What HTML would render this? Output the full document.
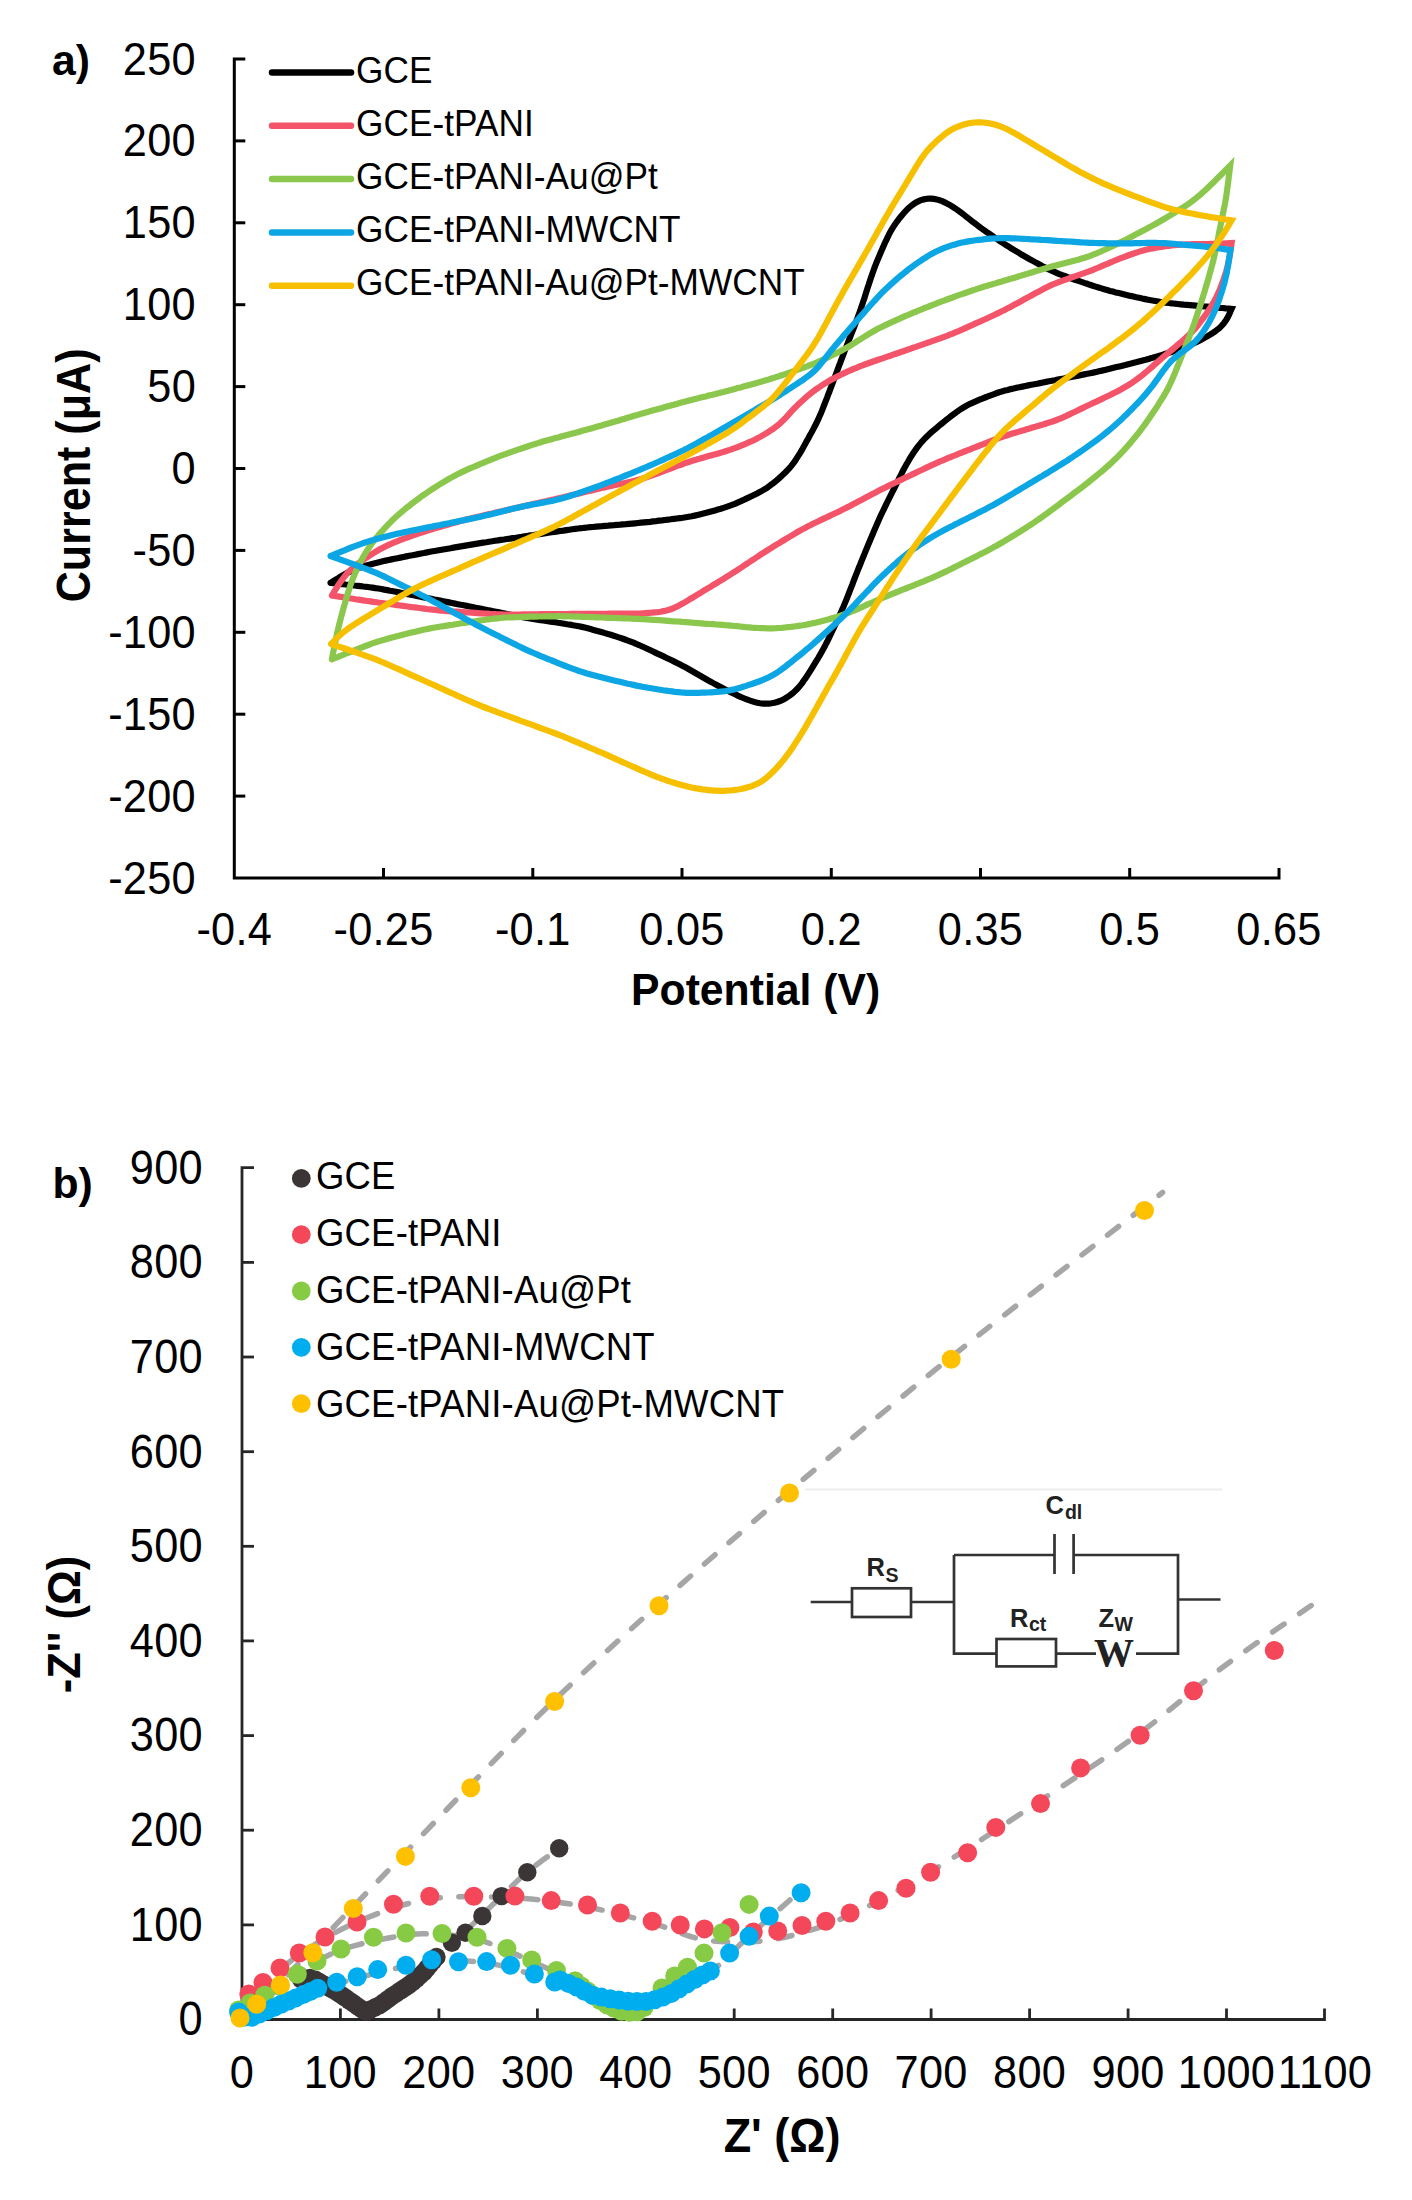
<!DOCTYPE html>
<html><head><meta charset="utf-8"><style>
html,body{margin:0;padding:0;background:#fff;}
svg{display:block;}
.t{font-family:"Liberation Sans",sans-serif;font-size:43.3px;letter-spacing:0.3px;fill:#000;}
.tb{font-family:"Liberation Sans",sans-serif;font-size:42.7px;font-weight:bold;fill:#000;}
.tb2{font-family:"Liberation Sans",sans-serif;font-size:45px;font-weight:bold;fill:#000;}
.tl{font-family:"Liberation Sans",sans-serif;font-size:35.2px;letter-spacing:0.05px;fill:#000;}
.ser{font-family:"Liberation Serif",serif;font-size:38px;font-weight:bold;fill:#222;}
.cb{font-family:"Liberation Sans",sans-serif;font-size:25.5px;font-weight:bold;fill:#222;}
.sub{font-size:19.5px;}
.tl2{font-family:"Liberation Sans",sans-serif;font-size:36.5px;letter-spacing:0.2px;fill:#000;}
</style></head><body>
<svg width="1412" height="2200" viewBox="0 0 1412 2200">
<rect width="1412" height="2200" fill="#fff"/>
<path d="M245.3,59 H234.3 V878 H1279 V868" fill="none" stroke="#000" stroke-width="3"/>
<path d="M234.3,140.9 H245.3" stroke="#000" stroke-width="3"/>
<path d="M234.3,222.8 H245.3" stroke="#000" stroke-width="3"/>
<path d="M234.3,304.7 H245.3" stroke="#000" stroke-width="3"/>
<path d="M234.3,386.6 H245.3" stroke="#000" stroke-width="3"/>
<path d="M234.3,468.5 H245.3" stroke="#000" stroke-width="3"/>
<path d="M234.3,550.4 H245.3" stroke="#000" stroke-width="3"/>
<path d="M234.3,632.3 H245.3" stroke="#000" stroke-width="3"/>
<path d="M234.3,714.2 H245.3" stroke="#000" stroke-width="3"/>
<path d="M234.3,796.1 H245.3" stroke="#000" stroke-width="3"/>
<path d="M383.5,878 V868" stroke="#000" stroke-width="3"/>
<path d="M532.8,878 V868" stroke="#000" stroke-width="3"/>
<path d="M682.0,878 V868" stroke="#000" stroke-width="3"/>
<path d="M831.3,878 V868" stroke="#000" stroke-width="3"/>
<path d="M980.5,878 V868" stroke="#000" stroke-width="3"/>
<path d="M1129.7,878 V868" stroke="#000" stroke-width="3"/>
<text transform="translate(196.0,74.5) scale(1,1.07)" text-anchor="end" class="t" >250</text>
<text transform="translate(196.0,156.4) scale(1,1.07)" text-anchor="end" class="t" >200</text>
<text transform="translate(196.0,238.3) scale(1,1.07)" text-anchor="end" class="t" >150</text>
<text transform="translate(196.0,320.2) scale(1,1.07)" text-anchor="end" class="t" >100</text>
<text transform="translate(196.0,402.1) scale(1,1.07)" text-anchor="end" class="t" >50</text>
<text transform="translate(196.0,484.0) scale(1,1.07)" text-anchor="end" class="t" >0</text>
<text transform="translate(196.0,565.9) scale(1,1.07)" text-anchor="end" class="t" >-50</text>
<text transform="translate(196.0,647.8) scale(1,1.07)" text-anchor="end" class="t" >-100</text>
<text transform="translate(196.0,729.7) scale(1,1.07)" text-anchor="end" class="t" >-150</text>
<text transform="translate(196.0,811.6) scale(1,1.07)" text-anchor="end" class="t" >-200</text>
<text transform="translate(196.0,893.5) scale(1,1.07)" text-anchor="end" class="t" >-250</text>
<text transform="translate(234.3,944.5) scale(1,1.07)" text-anchor="middle" class="t" >-0.4</text>
<text transform="translate(383.5,944.5) scale(1,1.07)" text-anchor="middle" class="t" >-0.25</text>
<text transform="translate(532.8,944.5) scale(1,1.07)" text-anchor="middle" class="t" >-0.1</text>
<text transform="translate(682.0,944.5) scale(1,1.07)" text-anchor="middle" class="t" >0.05</text>
<text transform="translate(831.3,944.5) scale(1,1.07)" text-anchor="middle" class="t" >0.2</text>
<text transform="translate(980.5,944.5) scale(1,1.07)" text-anchor="middle" class="t" >0.35</text>
<text transform="translate(1129.7,944.5) scale(1,1.07)" text-anchor="middle" class="t" >0.5</text>
<text transform="translate(1279.0,944.5) scale(1,1.07)" text-anchor="middle" class="t" >0.65</text>
<text x="52" y="75" class="tb">a)</text>
<text transform="translate(755.6,1005.0) scale(1,1.05)" text-anchor="middle" class="tb" >Potential (V)</text>
<text transform="translate(90,475.4) rotate(-90) scale(1,1.1)" text-anchor="middle" class="tb" style="font-size:43.1px">Current (μA)</text>
<path d="M272,72.5 H351" stroke="#000000" stroke-width="6.5" stroke-linecap="round"/>
<text transform="translate(356,83.3) scale(1,1.06)" class="tl">GCE</text>
<path d="M272,125.8 H351" stroke="#F4546A" stroke-width="6.5" stroke-linecap="round"/>
<text transform="translate(356,136.2) scale(1,1.06)" class="tl">GCE-tPANI</text>
<path d="M272,179.1 H351" stroke="#8BC74C" stroke-width="6.5" stroke-linecap="round"/>
<text transform="translate(356,189.2) scale(1,1.06)" class="tl">GCE-tPANI-Au@Pt</text>
<path d="M272,232.4 H351" stroke="#0BA6E3" stroke-width="6.5" stroke-linecap="round"/>
<text transform="translate(356,242.2) scale(1,1.06)" class="tl">GCE-tPANI-MWCNT</text>
<path d="M272,285.7 H351" stroke="#F6C000" stroke-width="6.5" stroke-linecap="round"/>
<text transform="translate(356,295.1) scale(1,1.06)" class="tl">GCE-tPANI-Au@Pt-MWCNT</text>
<path d="M330.6,582.8 L333.2,581.2 L335.7,579.6 L338.3,578.1 L340.8,576.5 L343.4,575.1 L346.1,573.6 L348.7,572.3 L351.4,571.0 L354.1,569.8 L356.9,568.7 L359.7,567.7 L362.5,566.7 L365.4,565.8 L368.3,565.0 L371.2,564.2 L374.0,563.4 L377.0,562.7 L379.9,562.0 L382.8,561.3 L385.7,560.6 L388.7,560.0 L391.6,559.4 L394.5,558.8 L397.5,558.2 L400.4,557.6 L403.4,557.0 L406.3,556.4 L409.3,555.8 L412.2,555.3 L415.2,554.7 L418.1,554.1 L421.1,553.5 L424.0,553.0 L427.0,552.4 L429.9,551.8 L432.9,551.3 L435.8,550.8 L438.8,550.2 L441.7,549.7 L444.7,549.2 L447.7,548.7 L450.6,548.2 L453.6,547.6 L456.5,547.1 L459.5,546.6 L462.5,546.1 L465.4,545.6 L468.4,545.1 L471.3,544.6 L474.3,544.1 L477.3,543.6 L480.2,543.1 L483.2,542.6 L486.2,542.2 L489.1,541.7 L492.1,541.3 L495.1,540.8 L498.0,540.4 L501.0,539.9 L504.0,539.5 L507.0,539.0 L509.9,538.6 L512.9,538.1 L515.9,537.7 L518.8,537.2 L521.8,536.8 L524.8,536.3 L527.8,535.9 L530.7,535.4 L533.7,535.0 L536.7,534.5 L539.6,534.1 L542.6,533.6 L545.6,533.2 L548.5,532.8 L551.5,532.3 L554.5,531.9 L557.5,531.4 L560.4,531.0 L563.4,530.6 L566.4,530.1 L569.4,529.7 L572.3,529.3 L575.3,528.9 L578.3,528.5 L581.3,528.2 L584.3,527.8 L587.2,527.5 L590.2,527.2 L593.2,527.0 L596.2,526.7 L599.2,526.4 L602.2,526.2 L605.2,525.9 L608.2,525.7 L611.2,525.4 L614.2,525.2 L617.2,524.9 L620.2,524.7 L623.1,524.4 L626.1,524.2 L629.1,523.9 L632.1,523.6 L635.1,523.3 L638.1,523.0 L641.1,522.7 L644.1,522.4 L647.1,522.1 L650.1,521.8 L653.0,521.4 L656.0,521.1 L659.0,520.7 L662.0,520.4 L665.0,520.0 L668.0,519.7 L670.9,519.3 L673.9,518.9 L676.9,518.5 L679.9,518.1 L682.8,517.7 L685.8,517.2 L688.8,516.7 L691.7,516.2 L694.6,515.6 L697.6,514.9 L700.5,514.2 L703.4,513.5 L706.3,512.8 L709.2,512.0 L712.1,511.2 L715.0,510.4 L717.9,509.6 L720.8,508.8 L723.6,507.9 L726.5,506.9 L729.3,505.9 L732.1,504.9 L734.9,503.8 L737.6,502.6 L740.4,501.4 L743.1,500.2 L745.8,498.9 L748.5,497.6 L751.3,496.3 L754.0,495.0 L756.6,493.7 L759.3,492.3 L761.9,490.9 L764.4,489.4 L767.0,487.8 L769.4,486.1 L771.8,484.3 L774.1,482.5 L776.4,480.6 L778.7,478.6 L780.9,476.6 L783.1,474.6 L785.3,472.5 L787.3,470.4 L789.4,468.2 L791.3,465.9 L793.1,463.6 L794.9,461.2 L796.5,458.7 L798.1,456.2 L799.7,453.7 L801.2,451.1 L802.7,448.5 L804.1,445.9 L805.6,443.2 L807.0,440.6 L808.5,438.0 L809.9,435.3 L811.4,432.7 L812.8,430.1 L814.2,427.4 L815.6,424.7 L816.9,422.1 L818.2,419.4 L819.4,416.6 L820.6,413.9 L821.8,411.1 L822.9,408.3 L824.0,405.5 L825.1,402.7 L826.2,399.9 L827.3,397.1 L828.3,394.3 L829.4,391.5 L830.5,388.7 L831.5,385.9 L832.6,383.1 L833.6,380.3 L834.7,377.5 L835.8,374.6 L836.8,371.8 L837.9,369.0 L838.9,366.2 L840.0,363.4 L841.0,360.6 L842.1,357.8 L843.2,355.0 L844.2,352.2 L845.3,349.4 L846.4,346.6 L847.5,343.8 L848.6,341.0 L849.7,338.2 L850.8,335.4 L851.9,332.6 L853.0,329.8 L854.1,327.0 L855.2,324.2 L856.2,321.4 L857.3,318.6 L858.3,315.8 L859.4,312.9 L860.4,310.1 L861.3,307.3 L862.3,304.4 L863.2,301.6 L864.2,298.7 L865.1,295.8 L866.0,293.0 L866.9,290.1 L867.8,287.3 L868.8,284.4 L869.7,281.5 L870.6,278.7 L871.6,275.9 L872.6,273.0 L873.6,270.2 L874.6,267.4 L875.7,264.6 L876.8,261.8 L878.0,259.0 L879.1,256.3 L880.3,253.5 L881.5,250.7 L882.7,248.0 L883.9,245.2 L885.1,242.5 L886.4,239.8 L887.7,237.1 L889.0,234.4 L890.4,231.8 L891.9,229.2 L893.5,226.7 L895.1,224.2 L896.8,221.8 L898.6,219.4 L900.5,217.0 L902.4,214.7 L904.3,212.5 L906.3,210.3 L908.4,208.3 L910.6,206.3 L912.9,204.6 L915.2,203.0 L917.7,201.6 L920.3,200.4 L922.9,199.6 L925.6,199.0 L928.4,198.6 L931.1,198.6 L933.9,198.9 L936.7,199.4 L939.4,200.2 L942.1,201.2 L944.8,202.4 L947.4,203.7 L950.0,205.1 L952.5,206.7 L955.0,208.3 L957.5,210.0 L959.9,211.8 L962.3,213.6 L964.6,215.4 L967.0,217.3 L969.4,219.1 L971.7,221.0 L974.1,222.8 L976.5,224.6 L978.9,226.4 L981.3,228.2 L983.8,229.9 L986.2,231.7 L988.7,233.4 L991.1,235.1 L993.6,236.8 L996.1,238.5 L998.6,240.2 L1001.1,241.9 L1003.6,243.5 L1006.1,245.1 L1008.7,246.7 L1011.2,248.3 L1013.8,249.8 L1016.4,251.4 L1019.0,252.9 L1021.5,254.5 L1024.1,256.0 L1026.7,257.5 L1029.3,259.0 L1032.0,260.4 L1034.6,261.9 L1037.2,263.3 L1039.9,264.8 L1042.5,266.2 L1045.2,267.5 L1047.8,268.9 L1050.5,270.2 L1053.3,271.4 L1056.0,272.6 L1058.8,273.8 L1061.6,274.9 L1064.4,275.9 L1067.2,277.0 L1070.0,278.0 L1072.9,279.0 L1075.7,280.0 L1078.5,280.9 L1081.4,281.9 L1084.2,282.9 L1087.1,283.8 L1089.9,284.8 L1092.8,285.7 L1095.6,286.6 L1098.5,287.5 L1101.4,288.4 L1104.2,289.3 L1107.1,290.1 L1110.0,290.9 L1112.9,291.6 L1115.8,292.4 L1118.8,293.1 L1121.7,293.8 L1124.6,294.5 L1127.5,295.2 L1130.4,295.9 L1133.4,296.5 L1136.3,297.2 L1139.2,297.8 L1142.2,298.5 L1145.1,299.1 L1148.1,299.7 L1151.0,300.3 L1153.9,300.8 L1156.9,301.3 L1159.9,301.8 L1162.8,302.2 L1165.8,302.6 L1168.8,303.0 L1171.8,303.3 L1174.8,303.7 L1177.7,304.0 L1180.7,304.3 L1183.7,304.6 L1186.7,304.8 L1189.7,305.1 L1192.7,305.4 L1195.7,305.7 L1198.7,306.0 L1201.7,306.2 L1204.7,306.5 L1207.7,306.7 L1210.6,307.0 L1213.6,307.3 L1216.6,307.5 L1219.6,307.8 L1222.6,308.0 L1225.6,308.3 L1228.6,308.5 L1231.6,308.8 L1231.6,308.8 L1230.4,311.5 L1229.3,314.2 L1228.0,316.8 L1226.6,319.3 L1225.0,321.7 L1223.3,324.0 L1221.3,326.1 L1219.3,328.1 L1217.0,329.9 L1214.7,331.7 L1212.2,333.3 L1209.7,334.9 L1207.2,336.4 L1204.5,337.9 L1201.9,339.3 L1199.2,340.7 L1196.6,342.0 L1193.9,343.3 L1191.1,344.6 L1188.4,345.8 L1185.6,346.9 L1182.8,348.0 L1180.0,349.1 L1177.2,350.1 L1174.4,351.0 L1171.5,352.0 L1168.7,352.9 L1165.8,353.8 L1162.9,354.7 L1160.1,355.6 L1157.2,356.4 L1154.3,357.2 L1151.4,358.1 L1148.5,358.9 L1145.6,359.7 L1142.7,360.4 L1139.8,361.2 L1136.9,362.0 L1134.0,362.7 L1131.1,363.5 L1128.2,364.2 L1125.3,365.0 L1122.4,365.7 L1119.5,366.4 L1116.5,367.1 L1113.6,367.8 L1110.7,368.5 L1107.8,369.2 L1104.8,369.9 L1101.9,370.6 L1099.0,371.2 L1096.1,371.9 L1093.1,372.6 L1090.2,373.2 L1087.3,373.8 L1084.3,374.4 L1081.4,375.0 L1078.4,375.6 L1075.5,376.2 L1072.5,376.7 L1069.6,377.3 L1066.6,377.9 L1063.7,378.5 L1060.7,379.0 L1057.8,379.6 L1054.8,380.2 L1051.9,380.7 L1049.0,381.3 L1046.0,381.9 L1043.1,382.5 L1040.1,383.1 L1037.2,383.7 L1034.2,384.3 L1031.3,384.8 L1028.3,385.4 L1025.4,386.0 L1022.4,386.6 L1019.5,387.2 L1016.6,387.8 L1013.6,388.5 L1010.7,389.1 L1007.8,389.9 L1004.9,390.6 L1002.0,391.4 L999.2,392.3 L996.3,393.3 L993.5,394.3 L990.7,395.3 L987.9,396.4 L985.1,397.5 L982.3,398.6 L979.6,399.7 L976.8,400.9 L974.0,402.1 L971.3,403.3 L968.7,404.6 L966.0,406.0 L963.4,407.5 L960.9,409.0 L958.4,410.7 L956.0,412.4 L953.6,414.2 L951.2,416.0 L948.9,417.9 L946.5,419.7 L944.2,421.6 L941.9,423.5 L939.5,425.4 L937.2,427.4 L934.9,429.3 L932.7,431.2 L930.4,433.2 L928.2,435.2 L926.1,437.3 L924.0,439.4 L922.0,441.6 L920.1,443.9 L918.2,446.2 L916.4,448.6 L914.7,451.0 L913.0,453.5 L911.4,456.0 L909.8,458.6 L908.3,461.2 L906.8,463.8 L905.3,466.4 L903.9,469.0 L902.5,471.7 L901.2,474.4 L899.8,477.0 L898.5,479.7 L897.1,482.4 L895.8,485.1 L894.5,487.8 L893.1,490.5 L891.8,493.2 L890.4,495.8 L889.1,498.5 L887.8,501.2 L886.4,503.9 L885.1,506.6 L883.8,509.3 L882.5,512.0 L881.2,514.7 L879.9,517.5 L878.7,520.2 L877.5,522.9 L876.3,525.7 L875.1,528.4 L873.9,531.2 L872.8,534.0 L871.6,536.7 L870.4,539.5 L869.3,542.3 L868.1,545.0 L867.0,547.8 L865.8,550.6 L864.7,553.4 L863.5,556.2 L862.4,558.9 L861.3,561.7 L860.2,564.5 L859.0,567.3 L857.9,570.1 L856.8,572.9 L855.7,575.7 L854.6,578.5 L853.5,581.3 L852.5,584.1 L851.4,586.9 L850.3,589.7 L849.2,592.5 L848.1,595.3 L847.0,598.1 L845.9,600.8 L844.7,603.6 L843.6,606.4 L842.4,609.1 L841.2,611.9 L839.9,614.6 L838.7,617.3 L837.4,620.1 L836.1,622.8 L834.9,625.5 L833.6,628.2 L832.3,630.9 L831.0,633.7 L829.7,636.4 L828.4,639.1 L827.1,641.8 L825.7,644.4 L824.4,647.1 L822.9,649.7 L821.5,652.3 L820.0,654.9 L818.5,657.5 L816.9,660.1 L815.3,662.7 L813.8,665.2 L812.2,667.8 L810.6,670.3 L809.0,672.8 L807.4,675.4 L805.7,677.9 L804.0,680.3 L802.3,682.8 L800.5,685.1 L798.6,687.4 L796.6,689.5 L794.5,691.6 L792.3,693.5 L790.0,695.3 L787.6,697.0 L785.1,698.5 L782.6,699.9 L779.9,701.0 L777.2,702.0 L774.4,702.8 L771.6,703.3 L768.8,703.6 L765.9,703.7 L763.0,703.6 L760.1,703.2 L757.3,702.7 L754.5,702.0 L751.6,701.1 L748.8,700.2 L746.0,699.1 L743.3,698.0 L740.5,696.8 L737.8,695.6 L735.1,694.3 L732.4,693.0 L729.7,691.7 L727.0,690.4 L724.3,689.0 L721.6,687.6 L719.0,686.2 L716.3,684.8 L713.7,683.4 L711.1,681.9 L708.4,680.5 L705.8,679.0 L703.2,677.5 L700.6,676.0 L698.0,674.5 L695.4,673.0 L692.8,671.5 L690.2,670.0 L687.6,668.5 L685.0,667.1 L682.3,665.7 L679.7,664.3 L677.0,662.9 L674.3,661.6 L671.6,660.3 L668.9,659.0 L666.2,657.7 L663.5,656.4 L660.8,655.2 L658.0,653.9 L655.3,652.6 L652.6,651.3 L649.9,650.0 L647.2,648.7 L644.5,647.5 L641.7,646.2 L639.0,645.0 L636.2,643.9 L633.5,642.7 L630.7,641.6 L627.9,640.6 L625.0,639.5 L622.2,638.5 L619.4,637.6 L616.5,636.6 L613.7,635.7 L610.8,634.8 L607.9,634.0 L605.0,633.1 L602.2,632.3 L599.3,631.5 L596.4,630.7 L593.5,629.9 L590.6,629.1 L587.7,628.3 L584.8,627.6 L581.9,626.9 L578.9,626.3 L576.0,625.7 L573.0,625.2 L570.1,624.6 L567.1,624.2 L564.2,623.7 L561.2,623.2 L558.2,622.8 L555.2,622.3 L552.3,621.9 L549.3,621.4 L546.3,621.0 L543.4,620.5 L540.4,620.1 L537.4,619.6 L534.5,619.1 L531.5,618.6 L528.6,618.1 L525.6,617.6 L522.6,617.1 L519.7,616.5 L516.7,615.9 L513.8,615.3 L510.9,614.8 L507.9,614.2 L505.0,613.6 L502.0,613.0 L499.1,612.4 L496.1,611.8 L493.2,611.2 L490.2,610.6 L487.3,610.1 L484.4,609.5 L481.4,608.9 L478.5,608.3 L475.5,607.7 L472.6,607.1 L469.6,606.5 L466.7,605.9 L463.7,605.3 L460.8,604.8 L457.8,604.2 L454.9,603.6 L452.0,603.0 L449.0,602.4 L446.1,601.8 L443.1,601.2 L440.2,600.6 L437.2,600.0 L434.3,599.5 L431.3,598.9 L428.4,598.3 L425.5,597.7 L422.5,597.1 L419.6,596.5 L416.6,595.9 L413.7,595.3 L410.7,594.7 L407.8,594.2 L404.8,593.6 L401.9,593.0 L398.9,592.4 L396.0,591.8 L393.1,591.2 L390.1,590.7 L387.2,590.1 L384.2,589.6 L381.3,589.0 L378.3,588.5 L375.3,588.1 L372.4,587.6 L369.4,587.2 L366.4,586.8 L363.4,586.5 L360.4,586.1 L357.5,585.8 L354.5,585.5 L351.5,585.1 L348.5,584.8 L345.5,584.5 L342.5,584.1 L339.6,583.8 L336.6,583.5 L333.6,583.1 L330.6,582.8" fill="none" stroke="#000000" stroke-width="6.2" stroke-linejoin="miter" stroke-miterlimit="6" stroke-linecap="round"/>
<path d="M331.9,595.5 L333.5,592.9 L335.0,590.4 L336.6,587.8 L338.2,585.3 L339.9,582.8 L341.6,580.4 L343.4,578.0 L345.2,575.7 L347.1,573.4 L349.2,571.3 L351.3,569.2 L353.5,567.3 L355.8,565.3 L358.2,563.5 L360.6,561.7 L363.0,560.0 L365.5,558.2 L368.0,556.6 L370.5,554.9 L373.0,553.3 L375.6,551.8 L378.1,550.3 L380.8,548.8 L383.4,547.4 L386.1,546.1 L388.8,544.8 L391.5,543.6 L394.3,542.4 L397.1,541.3 L399.9,540.2 L402.7,539.1 L405.5,538.1 L408.3,537.1 L411.1,536.0 L414.0,535.1 L416.8,534.1 L419.7,533.1 L422.5,532.2 L425.4,531.3 L428.3,530.4 L431.1,529.5 L434.0,528.6 L436.9,527.8 L439.8,526.9 L442.6,526.1 L445.5,525.2 L448.4,524.4 L451.3,523.5 L454.2,522.7 L457.1,521.9 L460.0,521.1 L462.9,520.4 L465.8,519.6 L468.7,518.9 L471.6,518.2 L474.6,517.5 L477.5,516.9 L480.4,516.2 L483.3,515.5 L486.3,514.8 L489.2,514.1 L492.1,513.5 L495.1,512.8 L498.0,512.1 L500.9,511.4 L503.8,510.7 L506.8,510.1 L509.7,509.4 L512.6,508.7 L515.6,508.0 L518.5,507.4 L521.4,506.7 L524.3,506.0 L527.3,505.4 L530.2,504.7 L533.1,504.0 L536.1,503.4 L539.0,502.7 L541.9,502.1 L544.9,501.4 L547.8,500.7 L550.7,500.1 L553.7,499.4 L556.6,498.7 L559.5,498.1 L562.4,497.4 L565.4,496.7 L568.3,496.0 L571.2,495.3 L574.1,494.6 L577.1,493.9 L580.0,493.2 L582.9,492.5 L585.8,491.8 L588.8,491.1 L591.7,490.4 L594.6,489.7 L597.5,489.0 L600.5,488.3 L603.4,487.6 L606.3,487.0 L609.2,486.3 L612.2,485.7 L615.1,485.0 L618.1,484.4 L621.0,483.8 L623.9,483.2 L626.9,482.6 L629.8,481.9 L632.7,481.2 L635.6,480.5 L638.5,479.7 L641.4,478.9 L644.3,478.0 L647.1,477.1 L650.0,476.1 L652.8,475.1 L655.6,474.1 L658.4,473.0 L661.2,472.0 L664.1,470.9 L666.9,469.9 L669.7,468.8 L672.5,467.8 L675.3,466.7 L678.1,465.7 L681.0,464.7 L683.8,463.7 L686.6,462.7 L689.5,461.7 L692.3,460.8 L695.2,459.9 L698.1,459.1 L701.0,458.2 L703.9,457.4 L706.7,456.6 L709.6,455.8 L712.5,455.0 L715.4,454.2 L718.3,453.4 L721.2,452.6 L724.1,451.7 L727.0,450.8 L729.8,449.9 L732.6,448.9 L735.5,447.9 L738.3,446.8 L741.1,445.7 L743.8,444.6 L746.6,443.4 L749.3,442.2 L752.1,441.0 L754.8,439.7 L757.4,438.3 L760.1,436.9 L762.7,435.4 L765.3,433.9 L767.8,432.3 L770.3,430.7 L772.8,429.1 L775.2,427.3 L777.5,425.5 L779.8,423.6 L781.9,421.6 L784.0,419.5 L786.1,417.3 L788.1,415.1 L790.1,412.9 L792.1,410.7 L794.2,408.5 L796.3,406.4 L798.4,404.3 L800.6,402.2 L802.8,400.2 L805.0,398.2 L807.3,396.2 L809.6,394.3 L811.9,392.4 L814.3,390.6 L816.7,388.9 L819.2,387.2 L821.7,385.5 L824.2,383.9 L826.8,382.3 L829.4,380.8 L832.0,379.3 L834.6,377.9 L837.3,376.5 L839.9,375.2 L842.6,373.8 L845.3,372.6 L848.1,371.3 L850.8,370.1 L853.6,368.9 L856.4,367.8 L859.1,366.6 L861.9,365.6 L864.7,364.5 L867.6,363.5 L870.4,362.5 L873.2,361.5 L876.1,360.5 L878.9,359.5 L881.8,358.6 L884.6,357.6 L887.5,356.6 L890.3,355.7 L893.1,354.7 L896.0,353.7 L898.8,352.8 L901.7,351.8 L904.5,350.8 L907.4,349.8 L910.2,348.8 L913.0,347.8 L915.9,346.9 L918.7,345.9 L921.6,344.9 L924.4,343.9 L927.2,342.9 L930.1,341.9 L932.9,340.9 L935.7,339.9 L938.6,338.9 L941.4,337.9 L944.2,336.8 L947.0,335.8 L949.8,334.7 L952.6,333.6 L955.4,332.4 L958.1,331.3 L960.9,330.1 L963.7,328.9 L966.4,327.6 L969.1,326.4 L971.9,325.2 L974.6,323.9 L977.4,322.7 L980.1,321.5 L982.8,320.2 L985.6,319.0 L988.3,317.7 L991.0,316.5 L993.8,315.2 L996.5,313.9 L999.2,312.6 L1001.9,311.3 L1004.6,310.0 L1007.2,308.6 L1009.9,307.2 L1012.5,305.8 L1015.2,304.3 L1017.8,302.9 L1020.5,301.5 L1023.1,300.0 L1025.7,298.6 L1028.4,297.1 L1031.0,295.7 L1033.6,294.2 L1036.3,292.8 L1038.9,291.4 L1041.6,290.0 L1044.2,288.6 L1046.9,287.2 L1049.6,285.9 L1052.3,284.7 L1055.1,283.5 L1057.9,282.4 L1060.7,281.3 L1063.5,280.3 L1066.3,279.3 L1069.1,278.3 L1072.0,277.3 L1074.8,276.4 L1077.7,275.4 L1080.5,274.4 L1083.4,273.4 L1086.2,272.4 L1089.0,271.4 L1091.8,270.3 L1094.6,269.2 L1097.4,268.0 L1100.1,266.9 L1102.9,265.7 L1105.6,264.5 L1108.4,263.3 L1111.2,262.1 L1113.9,261.0 L1116.7,259.8 L1119.5,258.7 L1122.3,257.6 L1125.1,256.6 L1127.9,255.5 L1130.8,254.5 L1133.6,253.5 L1136.4,252.6 L1139.3,251.6 L1142.2,250.8 L1145.0,250.0 L1147.9,249.3 L1150.9,248.6 L1153.8,248.1 L1156.7,247.5 L1159.7,247.1 L1162.7,246.7 L1165.6,246.2 L1168.6,245.9 L1171.6,245.5 L1174.6,245.2 L1177.6,244.9 L1180.6,244.7 L1183.6,244.5 L1186.6,244.4 L1189.6,244.3 L1192.6,244.2 L1195.6,244.1 L1198.6,244.1 L1201.6,244.1 L1204.6,244.0 L1207.6,244.0 L1210.6,243.9 L1213.6,243.8 L1216.6,243.7 L1219.6,243.6 L1222.6,243.5 L1225.6,243.3 L1228.6,243.2 L1231.6,243.0 L1231.6,243.0 L1231.2,246.0 L1230.7,248.9 L1230.3,251.9 L1229.8,254.9 L1229.3,257.8 L1228.7,260.7 L1228.1,263.7 L1227.5,266.6 L1226.7,269.5 L1225.9,272.3 L1225.0,275.2 L1224.1,278.0 L1223.1,280.8 L1222.0,283.7 L1221.0,286.5 L1219.9,289.2 L1218.7,292.0 L1217.5,294.7 L1216.2,297.4 L1214.8,300.0 L1213.4,302.7 L1211.9,305.2 L1210.3,307.7 L1208.7,310.3 L1207.0,312.7 L1205.3,315.2 L1203.6,317.6 L1201.8,320.1 L1200.0,322.4 L1198.2,324.8 L1196.3,327.1 L1194.3,329.3 L1192.3,331.5 L1190.2,333.6 L1188.0,335.7 L1185.9,337.8 L1183.6,339.8 L1181.4,341.8 L1179.1,343.7 L1176.8,345.7 L1174.6,347.6 L1172.3,349.5 L1169.9,351.4 L1167.6,353.4 L1165.3,355.3 L1163.0,357.2 L1160.8,359.2 L1158.5,361.1 L1156.3,363.1 L1154.0,365.1 L1151.8,367.1 L1149.5,369.1 L1147.3,371.0 L1145.0,373.0 L1142.7,374.9 L1140.3,376.7 L1137.9,378.5 L1135.5,380.3 L1133.1,382.0 L1130.6,383.7 L1128.1,385.3 L1125.5,386.8 L1122.9,388.3 L1120.3,389.8 L1117.7,391.2 L1115.0,392.6 L1112.3,393.9 L1109.6,395.2 L1106.9,396.5 L1104.2,397.8 L1101.5,399.1 L1098.8,400.4 L1096.1,401.7 L1093.4,402.9 L1090.6,404.2 L1087.9,405.5 L1085.2,406.8 L1082.5,408.1 L1079.8,409.4 L1077.1,410.7 L1074.4,412.0 L1071.7,413.3 L1069.0,414.6 L1066.3,415.9 L1063.6,417.1 L1060.8,418.3 L1058.1,419.4 L1055.3,420.5 L1052.5,421.5 L1049.6,422.4 L1046.8,423.3 L1043.9,424.2 L1041.0,425.1 L1038.2,425.9 L1035.3,426.8 L1032.4,427.6 L1029.5,428.5 L1026.7,429.3 L1023.8,430.2 L1020.9,431.0 L1018.0,431.9 L1015.2,432.8 L1012.3,433.6 L1009.4,434.5 L1006.6,435.5 L1003.7,436.4 L1000.9,437.4 L998.1,438.4 L995.3,439.4 L992.4,440.5 L989.6,441.6 L986.9,442.7 L984.1,443.8 L981.3,444.9 L978.5,446.0 L975.7,447.1 L972.9,448.2 L970.1,449.3 L967.3,450.4 L964.5,451.5 L961.8,452.6 L959.0,453.7 L956.2,454.8 L953.4,456.0 L950.6,457.1 L947.8,458.2 L945.1,459.4 L942.3,460.5 L939.5,461.7 L936.8,462.9 L934.1,464.1 L931.3,465.4 L928.6,466.6 L925.9,467.9 L923.2,469.2 L920.5,470.5 L917.8,471.8 L915.1,473.1 L912.3,474.4 L909.6,475.7 L906.9,477.0 L904.2,478.3 L901.5,479.6 L898.8,480.9 L896.1,482.2 L893.4,483.5 L890.7,484.8 L888.0,486.1 L885.3,487.4 L882.6,488.8 L880.0,490.1 L877.3,491.5 L874.6,492.9 L872.0,494.3 L869.3,495.7 L866.7,497.1 L864.0,498.5 L861.4,499.9 L858.7,501.3 L856.1,502.7 L853.4,504.1 L850.8,505.5 L848.1,506.9 L845.4,508.2 L842.7,509.6 L840.1,510.9 L837.4,512.2 L834.6,513.5 L831.9,514.8 L829.2,516.1 L826.5,517.4 L823.8,518.6 L821.1,519.9 L818.4,521.2 L815.7,522.5 L813.0,523.8 L810.3,525.2 L807.6,526.5 L805.0,527.9 L802.3,529.4 L799.7,530.8 L797.1,532.3 L794.5,533.8 L792.0,535.4 L789.4,536.9 L786.8,538.4 L784.2,540.0 L781.7,541.5 L779.1,543.1 L776.5,544.6 L774.0,546.2 L771.4,547.8 L768.9,549.4 L766.3,551.0 L763.8,552.6 L761.3,554.2 L758.8,555.9 L756.3,557.5 L753.8,559.2 L751.3,560.8 L748.8,562.5 L746.3,564.1 L743.8,565.8 L741.3,567.5 L738.8,569.1 L736.2,570.8 L733.7,572.4 L731.2,574.0 L728.7,575.6 L726.1,577.2 L723.6,578.8 L721.0,580.4 L718.5,581.9 L715.9,583.5 L713.3,585.0 L710.8,586.6 L708.2,588.1 L705.6,589.7 L703.1,591.2 L700.5,592.8 L697.9,594.4 L695.4,595.9 L692.8,597.5 L690.2,599.0 L687.7,600.6 L685.1,602.1 L682.5,603.6 L679.9,605.0 L677.3,606.4 L674.6,607.6 L671.9,608.8 L669.2,609.7 L666.4,610.5 L663.5,611.1 L660.6,611.7 L657.7,612.1 L654.7,612.4 L651.7,612.7 L648.7,612.9 L645.8,613.1 L642.8,613.3 L639.8,613.5 L636.8,613.6 L633.8,613.6 L630.8,613.7 L627.8,613.7 L624.8,613.7 L621.8,613.7 L618.8,613.7 L615.8,613.7 L612.8,613.7 L609.8,613.7 L606.8,613.8 L603.8,613.8 L600.8,613.8 L597.8,613.8 L594.8,613.8 L591.8,613.8 L588.8,613.8 L585.8,613.9 L582.8,613.9 L579.8,613.9 L576.8,613.9 L573.8,613.9 L570.8,613.9 L567.8,614.0 L564.8,614.0 L561.8,614.0 L558.8,614.0 L555.8,614.1 L552.8,614.1 L549.8,614.1 L546.8,614.2 L543.8,614.2 L540.8,614.2 L537.8,614.3 L534.8,614.3 L531.8,614.3 L528.8,614.4 L525.8,614.4 L522.8,614.4 L519.8,614.5 L516.8,614.5 L513.8,614.5 L510.8,614.5 L507.8,614.5 L504.8,614.5 L501.8,614.4 L498.8,614.3 L495.8,614.2 L492.8,614.0 L489.8,613.9 L486.8,613.7 L483.8,613.5 L480.8,613.3 L477.8,613.1 L474.8,612.9 L471.8,612.7 L468.8,612.5 L465.8,612.3 L462.8,612.1 L459.8,611.9 L456.8,611.7 L453.8,611.5 L450.9,611.3 L447.9,611.1 L444.9,610.8 L441.9,610.6 L438.9,610.3 L435.9,610.0 L432.9,609.7 L429.9,609.3 L427.0,609.0 L424.0,608.6 L421.0,608.2 L418.0,607.8 L415.1,607.4 L412.1,607.1 L409.1,606.7 L406.1,606.3 L403.2,605.9 L400.2,605.5 L397.2,605.1 L394.2,604.7 L391.3,604.3 L388.3,603.9 L385.3,603.5 L382.3,603.1 L379.4,602.7 L376.4,602.3 L373.4,601.9 L370.5,601.4 L367.5,601.0 L364.5,600.6 L361.6,600.1 L358.6,599.6 L355.6,599.2 L352.7,598.7 L349.7,598.3 L346.7,597.8 L343.8,597.3 L340.8,596.9 L337.8,596.4 L334.9,596.0 L331.9,595.5" fill="none" stroke="#F4546A" stroke-width="6.2" stroke-linejoin="miter" stroke-miterlimit="6" stroke-linecap="round"/>
<path d="M331.9,659.3 L332.5,656.4 L333.0,653.4 L333.6,650.5 L334.2,647.5 L334.8,644.6 L335.4,641.6 L336.0,638.7 L336.6,635.7 L337.2,632.8 L337.9,629.9 L338.6,627.0 L339.3,624.1 L340.1,621.1 L340.8,618.2 L341.6,615.3 L342.4,612.4 L343.1,609.5 L343.9,606.7 L344.8,603.8 L345.6,600.9 L346.4,598.0 L347.3,595.1 L348.2,592.3 L349.1,589.4 L350.0,586.5 L351.0,583.7 L352.0,580.9 L353.1,578.1 L354.2,575.3 L355.4,572.6 L356.6,569.8 L357.9,567.1 L359.2,564.4 L360.6,561.8 L362.0,559.1 L363.4,556.5 L365.0,553.9 L366.5,551.4 L368.1,548.9 L369.8,546.4 L371.5,544.0 L373.3,541.6 L375.2,539.2 L377.1,536.9 L379.0,534.6 L381.0,532.3 L383.0,530.1 L385.0,527.9 L387.1,525.7 L389.1,523.6 L391.2,521.4 L393.4,519.3 L395.6,517.3 L397.8,515.3 L400.0,513.3 L402.3,511.3 L404.6,509.4 L406.9,507.5 L409.3,505.7 L411.6,503.8 L414.0,502.0 L416.4,500.2 L418.8,498.4 L421.3,496.6 L423.7,494.9 L426.2,493.2 L428.7,491.5 L431.2,489.8 L433.7,488.2 L436.2,486.6 L438.7,485.0 L441.3,483.4 L443.9,481.9 L446.4,480.3 L449.0,478.8 L451.7,477.4 L454.3,475.9 L456.9,474.5 L459.6,473.2 L462.3,471.9 L465.0,470.6 L467.7,469.4 L470.5,468.2 L473.3,467.0 L476.0,465.8 L478.8,464.6 L481.6,463.5 L484.3,462.3 L487.1,461.2 L489.9,460.1 L492.7,458.9 L495.5,457.8 L498.2,456.7 L501.0,455.7 L503.9,454.6 L506.7,453.6 L509.5,452.6 L512.3,451.6 L515.2,450.6 L518.0,449.6 L520.9,448.7 L523.7,447.7 L526.6,446.8 L529.4,445.8 L532.3,444.9 L535.1,444.0 L538.0,443.1 L540.8,442.2 L543.7,441.3 L546.6,440.5 L549.5,439.7 L552.4,438.9 L555.3,438.1 L558.2,437.4 L561.1,436.6 L564.0,435.8 L566.9,435.1 L569.8,434.3 L572.7,433.5 L575.6,432.7 L578.5,431.9 L581.4,431.1 L584.3,430.3 L587.2,429.5 L590.1,428.7 L593.0,427.9 L595.9,427.1 L598.7,426.3 L601.6,425.5 L604.5,424.6 L607.4,423.8 L610.3,422.9 L613.2,422.1 L616.0,421.2 L618.9,420.4 L621.8,419.5 L624.7,418.7 L627.5,417.8 L630.4,417.0 L633.3,416.1 L636.2,415.3 L639.1,414.4 L641.9,413.6 L644.8,412.7 L647.7,411.9 L650.6,411.1 L653.5,410.3 L656.4,409.5 L659.3,408.7 L662.2,407.9 L665.1,407.1 L668.0,406.3 L670.9,405.5 L673.8,404.7 L676.7,403.9 L679.6,403.1 L682.5,402.3 L685.4,401.6 L688.3,400.8 L691.2,400.0 L694.1,399.3 L697.0,398.6 L699.9,397.8 L702.8,397.1 L705.7,396.4 L708.6,395.6 L711.5,394.9 L714.5,394.2 L717.4,393.4 L720.3,392.7 L723.2,392.0 L726.1,391.2 L729.0,390.5 L731.9,389.7 L734.8,388.9 L737.7,388.1 L740.6,387.4 L743.5,386.6 L746.4,385.8 L749.3,385.0 L752.2,384.2 L755.1,383.4 L758.0,382.6 L760.9,381.7 L763.7,380.9 L766.6,380.1 L769.5,379.2 L772.4,378.3 L775.2,377.4 L778.1,376.5 L780.9,375.5 L783.8,374.6 L786.6,373.6 L789.4,372.6 L792.3,371.6 L795.1,370.6 L797.9,369.6 L800.8,368.6 L803.6,367.6 L806.4,366.6 L809.2,365.5 L812.0,364.4 L814.8,363.3 L817.5,362.1 L820.3,360.9 L823.0,359.7 L825.7,358.4 L828.4,357.1 L831.1,355.8 L833.8,354.5 L836.5,353.1 L839.2,351.8 L841.8,350.4 L844.5,348.9 L847.1,347.5 L849.7,346.0 L852.2,344.4 L854.8,342.8 L857.3,341.2 L859.8,339.6 L862.3,338.0 L864.9,336.4 L867.4,334.8 L870.0,333.2 L872.6,331.7 L875.2,330.2 L877.8,328.8 L880.5,327.5 L883.2,326.2 L885.9,324.9 L888.6,323.6 L891.3,322.3 L894.1,321.1 L896.8,319.9 L899.5,318.7 L902.3,317.4 L905.0,316.2 L907.8,315.0 L910.6,313.9 L913.3,312.7 L916.1,311.6 L918.9,310.4 L921.7,309.3 L924.4,308.2 L927.2,307.1 L930.0,306.0 L932.8,304.9 L935.6,303.8 L938.4,302.7 L941.2,301.6 L944.0,300.6 L946.8,299.5 L949.7,298.5 L952.5,297.5 L955.3,296.4 L958.1,295.4 L961.0,294.4 L963.8,293.5 L966.6,292.5 L969.5,291.5 L972.3,290.5 L975.2,289.6 L978.0,288.6 L980.9,287.7 L983.7,286.8 L986.6,285.9 L989.5,285.1 L992.4,284.2 L995.2,283.4 L998.1,282.5 L1001.0,281.7 L1003.9,280.8 L1006.8,279.9 L1009.6,279.1 L1012.5,278.2 L1015.4,277.4 L1018.3,276.5 L1021.1,275.6 L1024.0,274.8 L1026.9,273.9 L1029.8,273.0 L1032.6,272.2 L1035.5,271.3 L1038.4,270.4 L1041.3,269.6 L1044.1,268.7 L1047.0,267.9 L1049.9,267.1 L1052.8,266.3 L1055.7,265.5 L1058.6,264.7 L1061.5,263.9 L1064.4,263.2 L1067.3,262.4 L1070.2,261.7 L1073.1,260.9 L1076.0,260.2 L1078.9,259.4 L1081.8,258.5 L1084.7,257.7 L1087.5,256.8 L1090.3,255.8 L1093.1,254.7 L1095.9,253.6 L1098.7,252.5 L1101.4,251.3 L1104.1,250.0 L1106.9,248.8 L1109.6,247.5 L1112.3,246.2 L1115.0,244.9 L1117.7,243.6 L1120.4,242.3 L1123.1,241.0 L1125.8,239.7 L1128.5,238.3 L1131.1,236.9 L1133.8,235.5 L1136.5,234.1 L1139.1,232.7 L1141.8,231.3 L1144.4,229.9 L1147.1,228.5 L1149.7,227.1 L1152.3,225.6 L1155.0,224.2 L1157.6,222.7 L1160.2,221.2 L1162.8,219.7 L1165.4,218.2 L1168.0,216.7 L1170.6,215.1 L1173.1,213.6 L1175.7,212.1 L1178.3,210.5 L1180.8,208.9 L1183.3,207.3 L1185.8,205.7 L1188.3,204.0 L1190.7,202.3 L1193.1,200.5 L1195.5,198.6 L1197.8,196.7 L1200.1,194.8 L1202.3,192.8 L1204.6,190.8 L1206.8,188.7 L1208.9,186.7 L1211.1,184.6 L1213.3,182.5 L1215.4,180.4 L1217.5,178.3 L1219.6,176.2 L1221.8,174.0 L1223.9,171.9 L1226.0,169.8 L1228.1,167.6 L1230.2,165.5 L1230.2,165.5 L1229.8,168.5 L1229.5,171.5 L1229.1,174.4 L1228.7,177.4 L1228.4,180.4 L1228.0,183.4 L1227.6,186.4 L1227.2,189.3 L1226.8,192.3 L1226.4,195.3 L1225.9,198.2 L1225.4,201.2 L1224.9,204.1 L1224.3,207.1 L1223.7,210.0 L1223.1,213.0 L1222.5,215.9 L1221.9,218.9 L1221.3,221.8 L1220.7,224.7 L1220.1,227.7 L1219.5,230.6 L1218.9,233.6 L1218.4,236.5 L1217.8,239.5 L1217.2,242.4 L1216.6,245.4 L1216.1,248.3 L1215.4,251.2 L1214.8,254.2 L1214.1,257.1 L1213.4,260.0 L1212.7,262.9 L1211.9,265.8 L1211.1,268.7 L1210.3,271.6 L1209.5,274.5 L1208.7,277.4 L1207.9,280.3 L1207.0,283.2 L1206.2,286.0 L1205.3,288.9 L1204.5,291.8 L1203.6,294.7 L1202.7,297.5 L1201.8,300.4 L1200.9,303.3 L1200.0,306.1 L1199.1,309.0 L1198.1,311.8 L1197.2,314.7 L1196.2,317.5 L1195.3,320.4 L1194.3,323.2 L1193.3,326.0 L1192.3,328.9 L1191.2,331.7 L1190.2,334.5 L1189.1,337.3 L1188.0,340.1 L1186.9,342.9 L1185.8,345.7 L1184.7,348.5 L1183.6,351.3 L1182.5,354.0 L1181.4,356.8 L1180.3,359.6 L1179.2,362.4 L1178.0,365.2 L1176.9,368.0 L1175.8,370.8 L1174.7,373.6 L1173.5,376.3 L1172.4,379.1 L1171.1,381.8 L1169.9,384.5 L1168.6,387.2 L1167.2,389.9 L1165.7,392.5 L1164.2,395.1 L1162.7,397.6 L1161.1,400.2 L1159.5,402.7 L1157.9,405.3 L1156.3,407.8 L1154.6,410.3 L1152.9,412.8 L1151.2,415.3 L1149.6,417.7 L1147.8,420.2 L1146.1,422.7 L1144.4,425.1 L1142.6,427.5 L1140.8,429.9 L1139.0,432.3 L1137.1,434.7 L1135.3,437.0 L1133.3,439.3 L1131.4,441.6 L1129.5,443.9 L1127.5,446.2 L1125.5,448.4 L1123.5,450.6 L1121.4,452.8 L1119.4,455.0 L1117.3,457.1 L1115.1,459.3 L1113.0,461.3 L1110.8,463.4 L1108.6,465.4 L1106.3,467.4 L1104.1,469.3 L1101.8,471.3 L1099.5,473.2 L1097.1,475.1 L1094.8,477.0 L1092.5,478.9 L1090.1,480.8 L1087.8,482.7 L1085.4,484.5 L1083.1,486.4 L1080.7,488.2 L1078.3,490.0 L1075.9,491.8 L1073.5,493.6 L1071.1,495.4 L1068.7,497.2 L1066.3,499.0 L1063.9,500.8 L1061.5,502.6 L1059.1,504.4 L1056.7,506.2 L1054.3,508.0 L1051.9,509.8 L1049.5,511.6 L1047.0,513.4 L1044.6,515.1 L1042.2,516.9 L1039.7,518.6 L1037.3,520.3 L1034.8,522.0 L1032.3,523.7 L1029.8,525.3 L1027.3,527.0 L1024.7,528.6 L1022.2,530.2 L1019.7,531.8 L1017.1,533.4 L1014.6,535.0 L1012.0,536.5 L1009.4,538.1 L1006.9,539.6 L1004.3,541.2 L1001.7,542.7 L999.1,544.2 L996.5,545.7 L993.9,547.1 L991.2,548.6 L988.6,550.0 L985.9,551.4 L983.3,552.8 L980.6,554.1 L977.9,555.5 L975.2,556.9 L972.5,558.2 L969.9,559.6 L967.2,560.9 L964.5,562.2 L961.8,563.6 L959.1,564.9 L956.4,566.3 L953.7,567.6 L951.1,568.9 L948.4,570.3 L945.7,571.6 L942.9,572.9 L940.2,574.1 L937.5,575.4 L934.8,576.6 L932.0,577.8 L929.3,579.0 L926.5,580.1 L923.7,581.3 L920.9,582.4 L918.1,583.5 L915.4,584.7 L912.6,585.8 L909.8,586.9 L907.0,588.0 L904.2,589.1 L901.4,590.2 L898.6,591.4 L895.8,592.5 L893.1,593.6 L890.3,594.7 L887.5,595.9 L884.7,597.0 L882.0,598.2 L879.2,599.4 L876.4,600.5 L873.7,601.8 L871.0,603.0 L868.2,604.2 L865.5,605.4 L862.7,606.7 L860.0,607.9 L857.3,609.1 L854.5,610.3 L851.7,611.5 L849.0,612.6 L846.2,613.7 L843.4,614.7 L840.5,615.7 L837.7,616.6 L834.8,617.5 L831.9,618.3 L829.0,619.2 L826.2,620.0 L823.3,620.7 L820.4,621.5 L817.5,622.2 L814.5,622.9 L811.6,623.5 L808.7,624.1 L805.7,624.7 L802.8,625.2 L799.8,625.6 L796.8,626.1 L793.9,626.5 L790.9,626.9 L787.9,627.2 L784.9,627.5 L781.9,627.8 L779.0,628.0 L776.0,628.2 L773.0,628.3 L770.0,628.3 L767.0,628.3 L764.0,628.2 L761.0,628.1 L758.0,628.0 L755.0,627.8 L752.0,627.6 L749.0,627.3 L746.0,627.1 L743.0,626.8 L740.1,626.5 L737.1,626.2 L734.1,626.0 L731.1,625.7 L728.1,625.4 L725.1,625.2 L722.1,624.9 L719.1,624.7 L716.1,624.5 L713.1,624.2 L710.1,624.0 L707.1,623.8 L704.1,623.6 L701.1,623.3 L698.2,623.1 L695.2,622.9 L692.2,622.7 L689.2,622.4 L686.2,622.2 L683.2,622.0 L680.2,621.7 L677.2,621.5 L674.2,621.3 L671.2,621.1 L668.2,620.8 L665.2,620.6 L662.2,620.4 L659.2,620.2 L656.2,620.0 L653.2,619.8 L650.2,619.6 L647.2,619.4 L644.2,619.2 L641.2,619.1 L638.2,618.9 L635.2,618.8 L632.2,618.7 L629.2,618.5 L626.2,618.4 L623.2,618.3 L620.2,618.2 L617.2,618.1 L614.2,618.0 L611.2,617.9 L608.2,617.8 L605.2,617.6 L602.2,617.5 L599.2,617.4 L596.2,617.3 L593.2,617.2 L590.2,617.1 L587.2,617.0 L584.2,616.9 L581.2,616.8 L578.2,616.7 L575.2,616.6 L572.2,616.5 L569.2,616.4 L566.2,616.3 L563.2,616.3 L560.2,616.2 L557.2,616.2 L554.2,616.3 L551.2,616.3 L548.2,616.3 L545.2,616.4 L542.2,616.5 L539.2,616.5 L536.2,616.6 L533.2,616.7 L530.2,616.7 L527.2,616.8 L524.2,616.9 L521.2,617.0 L518.2,617.1 L515.2,617.2 L512.2,617.3 L509.2,617.4 L506.2,617.5 L503.2,617.7 L500.2,618.0 L497.2,618.3 L494.3,618.6 L491.3,619.0 L488.3,619.3 L485.3,619.8 L482.4,620.2 L479.4,620.6 L476.4,621.1 L473.5,621.5 L470.5,622.0 L467.5,622.4 L464.6,622.9 L461.6,623.3 L458.6,623.8 L455.7,624.2 L452.7,624.7 L449.7,625.1 L446.7,625.6 L443.8,626.1 L440.8,626.5 L437.9,627.0 L434.9,627.5 L431.9,628.0 L429.0,628.6 L426.1,629.2 L423.1,629.8 L420.2,630.5 L417.3,631.2 L414.4,631.9 L411.4,632.6 L408.5,633.3 L405.6,634.1 L402.7,634.8 L399.8,635.6 L396.9,636.3 L394.0,637.1 L391.1,637.8 L388.2,638.6 L385.3,639.4 L382.4,640.2 L379.5,641.1 L376.7,642.0 L373.8,642.9 L371.0,643.9 L368.2,645.0 L365.4,646.0 L362.6,647.1 L359.8,648.2 L357.0,649.3 L354.2,650.4 L351.4,651.5 L348.6,652.6 L345.8,653.7 L343.1,654.8 L340.3,656.0 L337.5,657.1 L334.7,658.2 L331.9,659.3" fill="none" stroke="#8BC74C" stroke-width="6.2" stroke-linejoin="miter" stroke-miterlimit="6" stroke-linecap="round"/>
<path d="M330.6,556.0 L333.4,554.9 L336.2,553.7 L338.9,552.6 L341.7,551.4 L344.5,550.3 L347.3,549.1 L350.1,548.0 L352.9,546.9 L355.7,545.8 L358.5,544.8 L361.3,543.8 L364.2,542.8 L367.0,541.9 L369.9,541.0 L372.8,540.1 L375.6,539.3 L378.5,538.5 L381.4,537.7 L384.3,536.9 L387.3,536.2 L390.2,535.4 L393.1,534.7 L396.0,534.0 L398.9,533.4 L401.9,532.7 L404.8,532.1 L407.8,531.5 L410.7,530.9 L413.7,530.3 L416.6,529.7 L419.6,529.1 L422.5,528.5 L425.5,527.9 L428.4,527.3 L431.4,526.7 L434.3,526.1 L437.3,525.5 L440.2,525.0 L443.2,524.4 L446.1,523.8 L449.1,523.2 L452.0,522.6 L454.9,522.0 L457.9,521.4 L460.8,520.8 L463.8,520.2 L466.7,519.6 L469.7,519.0 L472.6,518.4 L475.6,517.8 L478.5,517.1 L481.4,516.5 L484.4,515.8 L487.3,515.1 L490.2,514.4 L493.1,513.7 L496.1,512.9 L499.0,512.2 L501.9,511.5 L504.8,510.7 L507.7,510.0 L510.6,509.3 L513.6,508.6 L516.5,507.9 L519.4,507.2 L522.4,506.6 L525.3,506.0 L528.2,505.4 L531.2,504.8 L534.2,504.2 L537.1,503.7 L540.1,503.1 L543.0,502.6 L546.0,502.0 L548.9,501.5 L551.9,500.9 L554.8,500.2 L557.7,499.5 L560.6,498.8 L563.5,498.0 L566.4,497.1 L569.2,496.2 L572.1,495.3 L575.0,494.4 L577.8,493.4 L580.6,492.4 L583.5,491.4 L586.3,490.4 L589.2,489.4 L592.0,488.4 L594.8,487.4 L597.7,486.4 L600.5,485.4 L603.3,484.3 L606.1,483.2 L608.9,482.2 L611.7,481.1 L614.5,480.0 L617.3,478.9 L620.1,477.8 L622.9,476.6 L625.7,475.5 L628.5,474.4 L631.3,473.3 L634.1,472.1 L636.8,471.0 L639.6,469.9 L642.4,468.7 L645.2,467.5 L647.9,466.4 L650.7,465.2 L653.5,464.0 L656.2,462.7 L659.0,461.5 L661.7,460.3 L664.4,459.1 L667.2,457.8 L669.9,456.6 L672.7,455.3 L675.4,454.1 L678.1,452.8 L680.8,451.5 L683.5,450.2 L686.2,448.9 L688.9,447.5 L691.6,446.1 L694.2,444.7 L696.9,443.3 L699.5,441.8 L702.1,440.3 L704.7,438.8 L707.3,437.4 L709.9,435.9 L712.6,434.4 L715.2,432.9 L717.8,431.4 L720.4,429.9 L723.0,428.4 L725.6,426.9 L728.2,425.4 L730.8,423.9 L733.4,422.4 L736.0,420.9 L738.6,419.4 L741.2,417.9 L743.8,416.4 L746.4,414.9 L749.0,413.4 L751.6,411.9 L754.2,410.3 L756.8,408.8 L759.4,407.3 L762.0,405.8 L764.6,404.3 L767.2,402.7 L769.8,401.2 L772.3,399.6 L774.9,398.0 L777.5,396.4 L780.0,394.8 L782.5,393.2 L785.1,391.6 L787.6,390.0 L790.1,388.3 L792.6,386.7 L795.2,385.0 L797.7,383.4 L800.2,381.7 L802.7,380.1 L805.1,378.3 L807.5,376.6 L809.9,374.8 L812.1,372.9 L814.3,370.9 L816.4,368.8 L818.4,366.6 L820.3,364.3 L822.2,362.0 L824.1,359.7 L825.9,357.3 L827.8,354.9 L829.6,352.6 L831.5,350.2 L833.4,347.9 L835.3,345.6 L837.3,343.3 L839.2,341.0 L841.2,338.7 L843.1,336.4 L845.1,334.2 L847.1,331.9 L849.0,329.6 L851.0,327.3 L853.0,325.1 L855.0,322.8 L856.9,320.5 L858.9,318.3 L860.9,316.0 L862.9,313.8 L864.9,311.5 L866.9,309.2 L868.9,307.0 L870.9,304.7 L872.9,302.5 L874.9,300.3 L876.9,298.1 L879.0,295.9 L881.0,293.7 L883.2,291.6 L885.3,289.5 L887.5,287.4 L889.7,285.4 L891.9,283.4 L894.2,281.4 L896.4,279.4 L898.7,277.4 L901.0,275.5 L903.3,273.6 L905.7,271.7 L908.0,269.8 L910.4,268.0 L912.8,266.2 L915.2,264.5 L917.7,262.7 L920.2,261.1 L922.7,259.4 L925.2,257.8 L927.8,256.2 L930.3,254.7 L932.9,253.2 L935.6,251.8 L938.3,250.5 L941.0,249.3 L943.8,248.2 L946.6,247.2 L949.4,246.2 L952.2,245.2 L955.1,244.4 L958.0,243.6 L960.9,242.8 L963.8,242.2 L966.7,241.6 L969.7,241.1 L972.6,240.7 L975.6,240.3 L978.6,239.9 L981.6,239.6 L984.6,239.2 L987.6,238.9 L990.6,238.7 L993.5,238.5 L996.5,238.3 L999.5,238.2 L1002.5,238.1 L1005.5,238.1 L1008.5,238.2 L1011.5,238.3 L1014.5,238.4 L1017.5,238.5 L1020.5,238.7 L1023.5,238.8 L1026.5,239.0 L1029.5,239.2 L1032.5,239.3 L1035.5,239.5 L1038.6,239.7 L1041.6,239.9 L1044.6,240.0 L1047.6,240.2 L1050.6,240.4 L1053.6,240.6 L1056.6,240.8 L1059.6,241.0 L1062.6,241.2 L1065.6,241.3 L1068.6,241.5 L1071.6,241.7 L1074.6,241.9 L1077.6,242.1 L1080.6,242.3 L1083.6,242.5 L1086.6,242.6 L1089.6,242.8 L1092.6,242.9 L1095.6,243.0 L1098.6,243.1 L1101.6,243.2 L1104.6,243.2 L1107.6,243.3 L1110.6,243.3 L1113.6,243.4 L1116.6,243.4 L1119.6,243.4 L1122.7,243.4 L1125.7,243.4 L1128.7,243.3 L1131.7,243.3 L1134.7,243.2 L1137.7,243.1 L1140.7,243.1 L1143.7,243.0 L1146.7,242.9 L1149.7,242.9 L1152.7,242.9 L1155.7,242.9 L1158.7,243.0 L1161.7,243.1 L1164.7,243.2 L1167.7,243.4 L1170.7,243.6 L1173.7,243.8 L1176.7,244.1 L1179.7,244.3 L1182.7,244.6 L1185.7,244.8 L1188.7,245.1 L1191.7,245.4 L1194.7,245.6 L1197.7,245.9 L1200.7,246.2 L1203.7,246.5 L1206.7,246.9 L1209.6,247.2 L1212.6,247.6 L1215.6,247.9 L1218.6,248.3 L1221.6,248.7 L1224.5,249.1 L1227.5,249.6 L1230.5,250.0 L1230.5,250.0 L1230.0,253.0 L1229.6,255.9 L1229.1,258.9 L1228.7,261.9 L1228.2,264.8 L1227.7,267.8 L1227.1,270.7 L1226.6,273.7 L1225.9,276.6 L1225.2,279.5 L1224.5,282.4 L1223.7,285.3 L1222.8,288.2 L1222.0,291.1 L1221.0,293.9 L1220.1,296.8 L1219.1,299.6 L1218.1,302.4 L1217.1,305.2 L1216.0,308.0 L1214.8,310.8 L1213.6,313.5 L1212.3,316.2 L1210.9,318.8 L1209.5,321.5 L1208.0,324.1 L1206.4,326.6 L1204.9,329.2 L1203.2,331.7 L1201.5,334.1 L1199.8,336.4 L1197.9,338.7 L1195.9,340.9 L1193.8,342.9 L1191.6,344.8 L1189.3,346.7 L1186.9,348.5 L1184.5,350.3 L1182.1,352.0 L1179.7,353.8 L1177.4,355.6 L1175.1,357.5 L1172.9,359.4 L1170.8,361.5 L1168.8,363.7 L1166.9,365.9 L1165.1,368.3 L1163.3,370.7 L1161.5,373.1 L1159.8,375.5 L1158.1,378.0 L1156.4,380.4 L1154.6,382.9 L1152.8,385.3 L1151.0,387.6 L1149.1,390.0 L1147.2,392.3 L1145.3,394.6 L1143.3,396.8 L1141.3,399.1 L1139.2,401.3 L1137.2,403.5 L1135.1,405.6 L1133.0,407.8 L1130.9,410.0 L1128.8,412.1 L1126.7,414.2 L1124.5,416.3 L1122.4,418.4 L1120.2,420.5 L1118.0,422.5 L1115.8,424.5 L1113.5,426.5 L1111.2,428.5 L1109.0,430.4 L1106.6,432.3 L1104.3,434.2 L1101.9,436.1 L1099.6,437.9 L1097.2,439.7 L1094.8,441.5 L1092.3,443.3 L1089.9,445.0 L1087.4,446.8 L1085.0,448.5 L1082.5,450.2 L1080.1,451.9 L1077.6,453.6 L1075.1,455.3 L1072.6,457.0 L1070.1,458.6 L1067.6,460.3 L1065.1,461.9 L1062.5,463.5 L1060.0,465.1 L1057.4,466.7 L1054.9,468.3 L1052.3,469.8 L1049.7,471.4 L1047.2,473.0 L1044.6,474.5 L1042.0,476.1 L1039.4,477.6 L1036.9,479.2 L1034.3,480.7 L1031.7,482.3 L1029.1,483.8 L1026.6,485.3 L1024.0,486.9 L1021.4,488.4 L1018.8,490.0 L1016.2,491.5 L1013.7,493.1 L1011.1,494.6 L1008.5,496.2 L1005.9,497.7 L1003.3,499.2 L1000.7,500.7 L998.1,502.2 L995.5,503.7 L992.9,505.2 L990.3,506.6 L987.6,508.0 L985.0,509.4 L982.3,510.8 L979.6,512.1 L976.9,513.5 L974.2,514.9 L971.6,516.2 L968.9,517.6 L966.2,518.9 L963.5,520.3 L960.8,521.6 L958.1,523.0 L955.4,524.3 L952.8,525.7 L950.1,527.0 L947.4,528.4 L944.8,529.8 L942.1,531.2 L939.5,532.6 L936.9,534.1 L934.3,535.6 L931.7,537.2 L929.1,538.7 L926.6,540.3 L924.1,541.9 L921.5,543.6 L919.0,545.2 L916.6,546.9 L914.1,548.6 L911.7,550.4 L909.3,552.2 L906.9,554.0 L904.5,555.9 L902.2,557.8 L900.0,559.7 L897.7,561.7 L895.5,563.7 L893.2,565.7 L891.0,567.7 L888.8,569.8 L886.6,571.8 L884.4,573.9 L882.2,575.9 L880.1,578.0 L877.9,580.1 L875.8,582.3 L873.7,584.4 L871.6,586.6 L869.6,588.8 L867.5,591.0 L865.5,593.2 L863.4,595.3 L861.4,597.5 L859.3,599.7 L857.2,601.9 L855.2,604.1 L853.1,606.3 L851.0,608.5 L848.9,610.6 L846.8,612.7 L844.7,614.9 L842.5,617.0 L840.4,619.0 L838.2,621.1 L836.0,623.2 L833.8,625.2 L831.6,627.2 L829.4,629.3 L827.2,631.3 L824.9,633.3 L822.7,635.3 L820.5,637.4 L818.3,639.4 L816.0,641.4 L813.8,643.4 L811.5,645.3 L809.2,647.3 L806.9,649.2 L804.6,651.2 L802.3,653.1 L800.0,655.0 L797.6,656.8 L795.3,658.7 L792.9,660.6 L790.6,662.5 L788.2,664.3 L785.9,666.2 L783.5,668.0 L781.1,669.8 L778.7,671.5 L776.2,673.1 L773.7,674.7 L771.1,676.1 L768.4,677.5 L765.7,678.7 L763.0,679.9 L760.2,681.0 L757.4,682.0 L754.6,683.0 L751.8,684.0 L748.9,684.9 L746.1,685.9 L743.2,686.8 L740.3,687.7 L737.5,688.5 L734.6,689.3 L731.7,689.9 L728.8,690.5 L725.8,691.0 L722.9,691.4 L719.9,691.7 L716.9,691.9 L713.9,692.1 L710.9,692.3 L707.9,692.5 L704.9,692.6 L701.9,692.7 L698.9,692.8 L695.9,692.9 L692.9,692.9 L689.9,692.9 L687.0,692.8 L684.0,692.6 L681.0,692.4 L678.0,692.1 L675.0,691.8 L672.0,691.4 L669.1,691.0 L666.1,690.6 L663.1,690.2 L660.1,689.7 L657.2,689.3 L654.2,688.8 L651.2,688.3 L648.3,687.8 L645.3,687.2 L642.4,686.7 L639.4,686.1 L636.5,685.6 L633.5,684.9 L630.6,684.3 L627.7,683.7 L624.7,683.0 L621.8,682.3 L618.9,681.6 L616.0,680.9 L613.1,680.2 L610.1,679.4 L607.2,678.7 L604.3,678.0 L601.4,677.2 L598.5,676.5 L595.6,675.7 L592.7,675.0 L589.8,674.2 L586.9,673.4 L584.0,672.5 L581.1,671.6 L578.3,670.7 L575.5,669.7 L572.6,668.7 L569.8,667.6 L567.0,666.6 L564.2,665.5 L561.4,664.4 L558.7,663.3 L555.9,662.1 L553.1,661.0 L550.3,659.9 L547.5,658.8 L544.7,657.7 L541.9,656.5 L539.1,655.4 L536.4,654.2 L533.6,653.0 L530.9,651.8 L528.1,650.6 L525.4,649.4 L522.7,648.1 L520.0,646.8 L517.3,645.5 L514.6,644.1 L511.9,642.8 L509.2,641.4 L506.5,640.1 L503.8,638.8 L501.1,637.4 L498.5,636.1 L495.8,634.7 L493.1,633.4 L490.4,632.0 L487.7,630.7 L485.0,629.3 L482.4,627.9 L479.7,626.6 L477.0,625.2 L474.4,623.7 L471.7,622.3 L469.1,620.9 L466.4,619.5 L463.8,618.0 L461.2,616.6 L458.5,615.1 L455.9,613.7 L453.3,612.2 L450.6,610.8 L448.0,609.4 L445.4,607.9 L442.7,606.5 L440.1,605.0 L437.5,603.6 L434.8,602.2 L432.2,600.7 L429.5,599.3 L426.9,597.9 L424.2,596.5 L421.5,595.2 L418.8,593.8 L416.2,592.4 L413.5,591.1 L410.8,589.7 L408.1,588.4 L405.4,587.1 L402.7,585.7 L400.0,584.4 L397.4,583.0 L394.7,581.7 L392.0,580.4 L389.3,579.0 L386.6,577.7 L383.9,576.4 L381.1,575.2 L378.4,573.9 L375.6,572.7 L372.9,571.6 L370.1,570.5 L367.3,569.4 L364.5,568.3 L361.7,567.3 L358.9,566.2 L356.0,565.2 L353.2,564.2 L350.4,563.2 L347.6,562.1 L344.7,561.1 L341.9,560.1 L339.1,559.1 L336.3,558.0 L333.4,557.0 L330.6,556.0" fill="none" stroke="#0BA6E3" stroke-width="6.2" stroke-linejoin="miter" stroke-miterlimit="6" stroke-linecap="round"/>
<path d="M331.1,644.0 L333.2,641.8 L335.3,639.7 L337.4,637.6 L339.5,635.6 L341.8,633.6 L344.0,631.7 L346.4,629.9 L348.8,628.1 L351.3,626.4 L353.8,624.8 L356.3,623.2 L358.8,621.6 L361.4,620.0 L363.9,618.4 L366.5,616.9 L369.0,615.3 L371.6,613.8 L374.2,612.2 L376.8,610.7 L379.3,609.1 L381.9,607.6 L384.5,606.0 L387.0,604.5 L389.6,603.0 L392.2,601.4 L394.8,599.9 L397.3,598.3 L399.9,596.8 L402.5,595.3 L405.1,593.8 L407.7,592.3 L410.3,590.8 L412.9,589.4 L415.6,588.0 L418.3,586.7 L421.0,585.3 L423.7,584.1 L426.4,582.8 L429.1,581.6 L431.9,580.4 L434.6,579.1 L437.3,577.9 L440.1,576.7 L442.8,575.5 L445.6,574.3 L448.3,573.1 L451.1,571.9 L453.8,570.7 L456.6,569.5 L459.3,568.3 L462.1,567.0 L464.8,565.8 L467.6,564.6 L470.3,563.4 L473.0,562.2 L475.8,561.0 L478.5,559.8 L481.3,558.6 L484.0,557.4 L486.8,556.2 L489.5,555.0 L492.3,553.8 L495.1,552.6 L497.8,551.4 L500.6,550.3 L503.3,549.1 L506.1,547.9 L508.8,546.7 L511.6,545.5 L514.3,544.3 L517.1,543.1 L519.8,541.9 L522.6,540.7 L525.3,539.5 L528.1,538.3 L530.8,537.1 L533.6,536.0 L536.4,534.8 L539.1,533.6 L541.8,532.4 L544.6,531.1 L547.3,529.9 L550.0,528.6 L552.8,527.4 L555.4,526.1 L558.1,524.7 L560.8,523.3 L563.4,521.9 L566.1,520.5 L568.7,519.1 L571.4,517.7 L574.0,516.2 L576.6,514.8 L579.3,513.3 L581.9,511.9 L584.5,510.4 L587.1,509.0 L589.8,507.5 L592.4,506.1 L595.0,504.7 L597.6,503.2 L600.3,501.8 L602.9,500.3 L605.5,498.9 L608.2,497.4 L610.8,496.0 L613.4,494.6 L616.1,493.1 L618.7,491.7 L621.3,490.3 L624.0,488.8 L626.6,487.4 L629.3,486.0 L631.9,484.5 L634.5,483.1 L637.2,481.7 L639.8,480.3 L642.4,478.8 L645.1,477.4 L647.7,476.0 L650.4,474.5 L653.0,473.1 L655.6,471.7 L658.3,470.3 L660.9,468.9 L663.6,467.5 L666.3,466.1 L668.9,464.7 L671.6,463.3 L674.2,461.9 L676.9,460.6 L679.6,459.2 L682.2,457.8 L684.9,456.4 L687.5,455.0 L690.2,453.6 L692.8,452.1 L695.4,450.7 L698.1,449.3 L700.7,447.8 L703.3,446.4 L706.0,444.9 L708.6,443.5 L711.2,442.0 L713.8,440.6 L716.5,439.1 L719.1,437.6 L721.7,436.1 L724.2,434.6 L726.8,433.1 L729.3,431.5 L731.8,429.8 L734.3,428.1 L736.8,426.4 L739.2,424.7 L741.6,422.9 L744.0,421.1 L746.4,419.3 L748.8,417.5 L751.2,415.7 L753.6,413.9 L756.0,412.1 L758.4,410.3 L760.8,408.4 L763.1,406.6 L765.4,404.7 L767.7,402.8 L769.9,400.8 L772.0,398.7 L774.1,396.6 L776.1,394.4 L778.0,392.1 L780.0,389.8 L781.8,387.5 L783.7,385.1 L785.5,382.8 L787.4,380.4 L789.2,378.0 L791.0,375.6 L792.8,373.2 L794.7,370.9 L796.5,368.5 L798.3,366.1 L800.1,363.7 L801.9,361.3 L803.7,358.9 L805.5,356.5 L807.3,354.1 L809.0,351.7 L810.8,349.2 L812.5,346.7 L814.1,344.2 L815.7,341.7 L817.3,339.2 L818.8,336.6 L820.2,334.0 L821.7,331.3 L823.1,328.7 L824.6,326.1 L826.0,323.4 L827.4,320.8 L828.8,318.1 L830.2,315.5 L831.6,312.9 L833.1,310.2 L834.5,307.6 L835.9,304.9 L837.4,302.3 L838.8,299.7 L840.3,297.1 L841.8,294.5 L843.2,291.8 L844.7,289.2 L846.2,286.6 L847.7,284.0 L849.2,281.4 L850.7,278.8 L852.2,276.2 L853.7,273.7 L855.2,271.1 L856.7,268.5 L858.2,265.9 L859.7,263.3 L861.2,260.7 L862.7,258.1 L864.2,255.5 L865.7,252.8 L867.2,250.2 L868.7,247.6 L870.2,245.0 L871.6,242.4 L873.1,239.8 L874.6,237.2 L876.1,234.6 L877.5,232.0 L879.0,229.3 L880.5,226.7 L882.0,224.1 L883.4,221.5 L884.9,218.9 L886.4,216.3 L887.9,213.7 L889.4,211.1 L890.9,208.5 L892.4,205.9 L894.0,203.4 L895.5,200.8 L897.1,198.2 L898.6,195.7 L900.2,193.1 L901.8,190.5 L903.3,188.0 L904.9,185.4 L906.4,182.8 L908.0,180.3 L909.5,177.7 L911.1,175.1 L912.6,172.6 L914.2,170.0 L915.7,167.4 L917.3,164.9 L918.9,162.3 L920.5,159.8 L922.2,157.4 L923.9,155.0 L925.7,152.6 L927.6,150.3 L929.6,148.1 L931.6,146.0 L933.8,143.9 L935.9,141.8 L938.1,139.8 L940.4,137.8 L942.6,135.9 L945.0,134.1 L947.3,132.4 L949.8,130.7 L952.3,129.3 L954.9,127.9 L957.6,126.8 L960.4,125.7 L963.1,124.8 L966.0,124.0 L968.8,123.3 L971.7,122.8 L974.6,122.5 L977.5,122.3 L980.4,122.3 L983.3,122.5 L986.2,122.8 L989.1,123.3 L992.0,123.9 L994.9,124.6 L997.7,125.5 L1000.5,126.4 L1003.3,127.5 L1006.0,128.7 L1008.7,130.0 L1011.3,131.4 L1013.9,132.8 L1016.5,134.3 L1019.1,135.8 L1021.7,137.3 L1024.2,138.9 L1026.8,140.4 L1029.4,141.9 L1032.0,143.5 L1034.5,145.0 L1037.1,146.6 L1039.7,148.1 L1042.3,149.7 L1044.8,151.2 L1047.4,152.7 L1050.0,154.3 L1052.5,155.8 L1055.1,157.4 L1057.7,158.9 L1060.3,160.5 L1062.8,162.0 L1065.4,163.5 L1068.0,165.1 L1070.6,166.6 L1073.2,168.1 L1075.8,169.5 L1078.4,171.0 L1081.1,172.4 L1083.7,173.8 L1086.4,175.2 L1089.0,176.6 L1091.7,177.9 L1094.4,179.2 L1097.1,180.5 L1099.8,181.8 L1102.5,183.1 L1105.3,184.3 L1108.0,185.5 L1110.8,186.7 L1113.5,187.8 L1116.3,189.0 L1119.1,190.1 L1121.9,191.2 L1124.7,192.3 L1127.5,193.4 L1130.3,194.5 L1133.1,195.6 L1135.9,196.6 L1138.7,197.7 L1141.5,198.7 L1144.3,199.8 L1147.1,200.8 L1149.9,201.9 L1152.7,202.9 L1155.6,203.9 L1158.4,204.9 L1161.2,205.9 L1164.1,206.9 L1166.9,207.7 L1169.8,208.6 L1172.7,209.4 L1175.6,210.1 L1178.5,210.8 L1181.4,211.4 L1184.3,212.1 L1187.3,212.7 L1190.2,213.3 L1193.2,213.8 L1196.1,214.4 L1199.1,215.0 L1202.0,215.5 L1205.0,216.0 L1207.9,216.5 L1210.9,217.1 L1213.8,217.5 L1216.8,218.0 L1219.7,218.5 L1222.7,219.0 L1225.7,219.5 L1228.6,219.9 L1231.6,220.4 L1231.6,220.4 L1230.1,223.0 L1228.5,225.5 L1227.0,228.1 L1225.4,230.7 L1223.8,233.2 L1222.1,235.7 L1220.4,238.2 L1218.7,240.7 L1217.0,243.1 L1215.3,245.5 L1213.5,248.0 L1211.7,250.4 L1209.8,252.7 L1208.0,255.1 L1206.1,257.4 L1204.1,259.7 L1202.2,262.0 L1200.2,264.2 L1198.2,266.5 L1196.2,268.7 L1194.2,270.9 L1192.2,273.1 L1190.1,275.3 L1188.0,277.5 L1185.9,279.7 L1183.8,281.8 L1181.7,283.9 L1179.6,286.1 L1177.5,288.2 L1175.4,290.3 L1173.2,292.4 L1171.1,294.5 L1169.0,296.7 L1166.8,298.8 L1164.7,300.9 L1162.5,303.0 L1160.4,305.1 L1158.2,307.1 L1156.0,309.2 L1153.8,311.2 L1151.6,313.3 L1149.4,315.3 L1147.2,317.3 L1144.9,319.3 L1142.7,321.3 L1140.4,323.2 L1138.1,325.2 L1135.8,327.1 L1133.5,329.0 L1131.2,330.9 L1128.8,332.8 L1126.4,334.6 L1124.0,336.4 L1121.7,338.2 L1119.2,340.0 L1116.8,341.8 L1114.4,343.6 L1112.0,345.4 L1109.6,347.1 L1107.1,348.9 L1104.7,350.6 L1102.2,352.3 L1099.8,354.1 L1097.3,355.8 L1094.9,357.5 L1092.4,359.3 L1090.0,361.0 L1087.5,362.8 L1085.1,364.5 L1082.7,366.3 L1080.2,368.1 L1077.8,369.8 L1075.4,371.6 L1073.0,373.4 L1070.5,375.2 L1068.1,376.9 L1065.7,378.7 L1063.3,380.5 L1060.9,382.3 L1058.5,384.1 L1056.1,385.9 L1053.7,387.8 L1051.4,389.7 L1049.1,391.5 L1046.7,393.4 L1044.4,395.4 L1042.1,397.3 L1039.8,399.2 L1037.6,401.2 L1035.3,403.1 L1033.0,405.1 L1030.7,407.0 L1028.4,409.0 L1026.1,410.9 L1023.8,412.9 L1021.6,414.8 L1019.3,416.8 L1017.0,418.7 L1014.7,420.7 L1012.5,422.7 L1010.2,424.7 L1008.0,426.7 L1005.8,428.7 L1003.7,430.8 L1001.6,433.0 L999.6,435.2 L997.6,437.4 L995.6,439.7 L993.7,442.0 L991.8,444.3 L989.9,446.6 L988.1,449.0 L986.2,451.3 L984.3,453.7 L982.5,456.0 L980.6,458.4 L978.8,460.8 L976.9,463.1 L975.1,465.5 L973.3,467.9 L971.5,470.3 L969.7,472.7 L967.8,475.1 L966.0,477.5 L964.2,479.9 L962.4,482.3 L960.6,484.7 L958.8,487.1 L957.0,489.5 L955.2,491.9 L953.4,494.3 L951.6,496.7 L949.8,499.1 L948.0,501.5 L946.2,503.9 L944.4,506.3 L942.6,508.7 L940.8,511.2 L939.0,513.6 L937.2,516.0 L935.4,518.4 L933.6,520.8 L931.8,523.2 L930.0,525.6 L928.2,528.0 L926.4,530.4 L924.6,532.8 L922.8,535.2 L921.0,537.6 L919.3,540.0 L917.5,542.4 L915.7,544.9 L914.0,547.3 L912.3,549.8 L910.5,552.2 L908.8,554.7 L907.1,557.2 L905.4,559.7 L903.7,562.1 L902.0,564.6 L900.4,567.1 L898.7,569.6 L897.0,572.1 L895.4,574.6 L893.7,577.1 L892.1,579.6 L890.5,582.2 L888.9,584.7 L887.2,587.2 L885.6,589.8 L884.0,592.3 L882.4,594.8 L880.8,597.4 L879.2,599.9 L877.5,602.4 L875.9,604.9 L874.3,607.4 L872.6,610.0 L871.0,612.5 L869.3,615.0 L867.7,617.5 L866.1,620.0 L864.5,622.6 L862.9,625.1 L861.3,627.7 L859.8,630.2 L858.3,632.8 L856.8,635.4 L855.3,638.1 L853.8,640.7 L852.4,643.3 L850.9,645.9 L849.5,648.6 L848.0,651.2 L846.6,653.8 L845.2,656.5 L843.8,659.1 L842.3,661.8 L840.9,664.4 L839.4,667.0 L838.0,669.6 L836.5,672.3 L835.0,674.9 L833.5,677.5 L832.0,680.1 L830.5,682.7 L829.0,685.3 L827.5,687.9 L826.1,690.5 L824.6,693.1 L823.1,695.8 L821.7,698.4 L820.2,701.0 L818.7,703.6 L817.3,706.2 L815.8,708.9 L814.3,711.5 L812.9,714.1 L811.4,716.7 L809.9,719.3 L808.4,721.9 L806.9,724.5 L805.4,727.1 L803.9,729.7 L802.3,732.3 L800.7,734.8 L799.2,737.4 L797.5,739.9 L795.9,742.4 L794.3,744.9 L792.6,747.4 L790.9,749.9 L789.2,752.4 L787.4,754.8 L785.6,757.2 L783.8,759.6 L781.9,761.9 L780.0,764.2 L778.0,766.4 L776.0,768.7 L773.9,770.8 L771.8,772.9 L769.7,775.0 L767.4,776.9 L765.2,778.8 L762.8,780.5 L760.3,782.1 L757.8,783.5 L755.1,784.7 L752.4,785.8 L749.6,786.8 L746.8,787.6 L743.9,788.4 L741.0,789.0 L738.1,789.5 L735.1,789.9 L732.2,790.3 L729.2,790.5 L726.2,790.7 L723.2,790.8 L720.2,790.8 L717.3,790.7 L714.3,790.6 L711.3,790.3 L708.3,790.1 L705.3,789.7 L702.3,789.4 L699.4,788.9 L696.4,788.4 L693.5,787.9 L690.6,787.2 L687.6,786.6 L684.7,785.8 L681.8,785.1 L679.0,784.2 L676.1,783.4 L673.2,782.5 L670.3,781.6 L667.5,780.7 L664.7,779.7 L661.8,778.7 L659.0,777.7 L656.2,776.6 L653.4,775.5 L650.6,774.4 L647.9,773.2 L645.1,772.0 L642.4,770.8 L639.6,769.6 L636.9,768.4 L634.1,767.2 L631.4,766.0 L628.6,764.7 L625.9,763.5 L623.2,762.3 L620.4,761.1 L617.7,759.8 L614.9,758.6 L612.2,757.4 L609.5,756.2 L606.7,754.9 L604.0,753.7 L601.2,752.5 L598.4,751.3 L595.7,750.1 L592.9,749.0 L590.2,747.8 L587.4,746.6 L584.6,745.4 L581.9,744.3 L579.1,743.1 L576.3,741.9 L573.6,740.8 L570.8,739.6 L568.0,738.5 L565.2,737.3 L562.5,736.2 L559.7,735.1 L556.9,734.0 L554.1,733.0 L551.3,731.9 L548.4,730.9 L545.6,729.8 L542.8,728.8 L540.0,727.8 L537.1,726.8 L534.3,725.7 L531.5,724.7 L528.7,723.7 L525.9,722.6 L523.0,721.6 L520.2,720.6 L517.4,719.5 L514.6,718.5 L511.8,717.5 L508.9,716.4 L506.1,715.4 L503.3,714.3 L500.5,713.3 L497.7,712.3 L494.9,711.2 L492.0,710.2 L489.2,709.1 L486.4,708.0 L483.6,707.0 L480.8,705.8 L478.1,704.7 L475.3,703.6 L472.5,702.4 L469.8,701.2 L467.0,700.0 L464.3,698.8 L461.5,697.5 L458.8,696.3 L456.1,695.1 L453.3,693.8 L450.6,692.6 L447.8,691.4 L445.1,690.1 L442.4,688.9 L439.6,687.7 L436.9,686.4 L434.2,685.2 L431.4,684.0 L428.7,682.7 L425.9,681.5 L423.2,680.3 L420.5,679.0 L417.7,677.8 L415.0,676.6 L412.2,675.4 L409.5,674.1 L406.8,672.9 L404.0,671.7 L401.3,670.4 L398.5,669.2 L395.8,668.0 L393.1,666.8 L390.3,665.5 L387.6,664.3 L384.8,663.1 L382.1,662.0 L379.3,660.8 L376.5,659.7 L373.7,658.6 L370.9,657.6 L368.1,656.6 L365.2,655.6 L362.4,654.6 L359.6,653.6 L356.7,652.6 L353.9,651.7 L351.0,650.7 L348.2,649.8 L345.3,648.8 L342.5,647.8 L339.6,646.9 L336.8,645.9 L333.9,645.0 L331.1,644.0" fill="none" stroke="#F6C000" stroke-width="6.2" stroke-linejoin="miter" stroke-miterlimit="6" stroke-linecap="round"/>
<path d="M254,1167.6 H242 V2019.5 H1324.5 V2008.5" fill="none" stroke="#262626" stroke-width="2.8"/>
<path d="M242,1924.9 H254" stroke="#262626" stroke-width="2.8"/>
<path d="M242,1830.2 H254" stroke="#262626" stroke-width="2.8"/>
<path d="M242,1735.6 H254" stroke="#262626" stroke-width="2.8"/>
<path d="M242,1640.9 H254" stroke="#262626" stroke-width="2.8"/>
<path d="M242,1546.3 H254" stroke="#262626" stroke-width="2.8"/>
<path d="M242,1451.7 H254" stroke="#262626" stroke-width="2.8"/>
<path d="M242,1357.0 H254" stroke="#262626" stroke-width="2.8"/>
<path d="M242,1262.4 H254" stroke="#262626" stroke-width="2.8"/>
<path d="M340.4,2019.5 V2008.5" stroke="#262626" stroke-width="2.8"/>
<path d="M438.9,2019.5 V2008.5" stroke="#262626" stroke-width="2.8"/>
<path d="M537.4,2019.5 V2008.5" stroke="#262626" stroke-width="2.8"/>
<path d="M635.8,2019.5 V2008.5" stroke="#262626" stroke-width="2.8"/>
<path d="M734.2,2019.5 V2008.5" stroke="#262626" stroke-width="2.8"/>
<path d="M832.7,2019.5 V2008.5" stroke="#262626" stroke-width="2.8"/>
<path d="M931.1,2019.5 V2008.5" stroke="#262626" stroke-width="2.8"/>
<path d="M1029.6,2019.5 V2008.5" stroke="#262626" stroke-width="2.8"/>
<path d="M1128.1,2019.5 V2008.5" stroke="#262626" stroke-width="2.8"/>
<path d="M1226.5,2019.5 V2008.5" stroke="#262626" stroke-width="2.8"/>
<text transform="translate(203.0,2035.3) scale(1,1.1)" text-anchor="end" class="t" >0</text>
<text transform="translate(203.0,1940.7) scale(1,1.1)" text-anchor="end" class="t" >100</text>
<text transform="translate(203.0,1846.0) scale(1,1.1)" text-anchor="end" class="t" >200</text>
<text transform="translate(203.0,1751.4) scale(1,1.1)" text-anchor="end" class="t" >300</text>
<text transform="translate(203.0,1656.7) scale(1,1.1)" text-anchor="end" class="t" >400</text>
<text transform="translate(203.0,1562.1) scale(1,1.1)" text-anchor="end" class="t" >500</text>
<text transform="translate(203.0,1467.5) scale(1,1.1)" text-anchor="end" class="t" >600</text>
<text transform="translate(203.0,1372.8) scale(1,1.1)" text-anchor="end" class="t" >700</text>
<text transform="translate(203.0,1278.2) scale(1,1.1)" text-anchor="end" class="t" >800</text>
<text transform="translate(203.0,1183.5) scale(1,1.1)" text-anchor="end" class="t" >900</text>
<text transform="translate(242.0,2087.5) scale(1,1.07)" text-anchor="middle" class="t" >0</text>
<text transform="translate(340.4,2087.5) scale(1,1.07)" text-anchor="middle" class="t" >100</text>
<text transform="translate(438.9,2087.5) scale(1,1.07)" text-anchor="middle" class="t" >200</text>
<text transform="translate(537.4,2087.5) scale(1,1.07)" text-anchor="middle" class="t" >300</text>
<text transform="translate(635.8,2087.5) scale(1,1.07)" text-anchor="middle" class="t" >400</text>
<text transform="translate(734.2,2087.5) scale(1,1.07)" text-anchor="middle" class="t" >500</text>
<text transform="translate(832.7,2087.5) scale(1,1.07)" text-anchor="middle" class="t" >600</text>
<text transform="translate(931.1,2087.5) scale(1,1.07)" text-anchor="middle" class="t" >700</text>
<text transform="translate(1029.6,2087.5) scale(1,1.07)" text-anchor="middle" class="t" >800</text>
<text transform="translate(1128.1,2087.5) scale(1,1.07)" text-anchor="middle" class="t" >900</text>
<text transform="translate(1226.5,2087.5) scale(1,1.07)" text-anchor="middle" class="t" >1000</text>
<text transform="translate(1325.0,2087.5) scale(1,1.07)" text-anchor="middle" class="t" >1100</text>
<text x="52.5" y="1198" class="tb">b)</text>
<text transform="translate(782.0,2151.5) scale(1,1.07)" text-anchor="middle" class="tb2" >Z' (Ω)</text>
<text transform="translate(79.5,1624.5) rotate(-90) scale(1,1.08)" text-anchor="middle" class="tb" style="font-size:43.5px">-Z'' (Ω)</text>
<path d="M241.0,2019.0 C247.6,2012.8 261.8,2000.7 280.5,1982.0 C299.2,1963.3 321.3,1939.8 353.0,1907.0 C384.7,1874.2 436.9,1819.5 470.5,1785.0 C504.1,1750.5 523.2,1730.2 554.6,1700.0 C586.0,1669.8 619.9,1638.8 659.0,1604.0 C698.1,1569.2 740.8,1532.2 789.5,1491.0 C838.2,1449.8 889.0,1406.8 951.2,1357.0 C1013.4,1307.2 1127.4,1219.9 1162.6,1192.5" fill="none" stroke="#A6A6A6" stroke-width="5.5" stroke-linecap="round" stroke-dasharray="14 18.5" />
<path d="M241.0,2019.0 C244.5,2013.7 252.3,1997.7 262.0,1987.0 C271.7,1976.3 283.2,1965.8 299.0,1955.0 C314.8,1944.2 335.2,1931.3 357.0,1922.0 C378.8,1912.7 403.7,1903.0 430.0,1899.0 C456.3,1895.0 488.8,1896.7 515.0,1898.0 C541.2,1899.3 564.2,1902.8 587.0,1907.0 C609.8,1911.2 633.2,1917.7 652.0,1923.0 C670.8,1928.3 684.5,1935.8 700.0,1939.0 C715.5,1942.2 730.0,1942.5 745.0,1942.0 C760.0,1941.5 772.5,1940.5 790.0,1936.0 C807.5,1931.5 826.7,1925.7 850.0,1915.0 C873.3,1904.3 898.3,1891.0 930.0,1872.0 C961.7,1853.0 1005.0,1824.2 1040.0,1801.0 C1075.0,1777.8 1109.5,1755.3 1140.0,1733.0 C1170.5,1710.7 1192.2,1689.8 1223.0,1667.0 C1253.8,1644.2 1307.8,1608.1 1324.7,1596.3" fill="none" stroke="#A6A6A6" stroke-width="5.5" stroke-linecap="round" stroke-dasharray="14 18.5" />
<path d="M241.0,2019.0 C250.3,2011.7 280.3,1986.5 297.0,1975.0 C313.7,1963.5 322.8,1956.7 341.0,1950.0 C359.2,1943.3 389.2,1937.5 406.0,1935.0 C422.8,1932.5 430.2,1934.3 442.0,1935.0 C453.8,1935.7 462.2,1934.7 477.0,1939.0 C491.8,1943.3 514.7,1953.7 531.0,1961.0 C547.3,1968.3 558.8,1973.5 575.0,1983.0 C591.2,1992.5 619.2,2012.2 628.0,2018.0" fill="none" stroke="#A6A6A6" stroke-width="5.5" stroke-linecap="round" stroke-dasharray="14 18.5" />
<path d="M241.0,2019.0 C257.5,2013.0 308.3,1992.5 340.0,1983.0 C371.7,1973.5 406.7,1965.3 431.0,1962.0 C455.3,1958.7 468.8,1960.8 486.0,1963.0 C503.2,1965.2 516.7,1969.8 534.0,1975.0 C551.3,1980.2 573.3,1989.3 590.0,1994.0 C606.7,1998.7 619.7,2003.5 634.0,2003.0 C648.3,2002.5 662.7,1996.7 676.0,1991.0 C689.3,1985.3 701.8,1978.2 714.0,1969.0 C726.2,1959.8 736.3,1947.5 749.0,1936.0 C761.7,1924.5 783.2,1906.0 790.0,1900.0" fill="none" stroke="#A6A6A6" stroke-width="5.5" stroke-linecap="round" stroke-dasharray="14 18.5" />
<path d="M465.0,1932.0 C471.1,1926.0 491.2,1906.0 501.6,1896.0 C512.0,1886.0 517.7,1880.0 527.3,1872.0 C536.9,1864.0 553.9,1852.2 559.2,1848.3" fill="none" stroke="#A6A6A6" stroke-width="5.5" stroke-linecap="round" stroke-dasharray="14 18.5" />
<circle cx="301.2" cy="1979.5" r="9.2" fill="#3B3536"/><circle cx="310.0" cy="1978.0" r="9.2" fill="#3B3536"/><circle cx="315.5" cy="1979.7" r="9.2" fill="#3B3536"/><circle cx="319.8" cy="1982.2" r="9.2" fill="#3B3536"/><circle cx="324.1" cy="1984.7" r="9.2" fill="#3B3536"/><circle cx="328.5" cy="1987.3" r="9.2" fill="#3B3536"/><circle cx="332.8" cy="1989.8" r="9.2" fill="#3B3536"/><circle cx="337.1" cy="1992.3" r="9.2" fill="#3B3536"/><circle cx="341.3" cy="1994.9" r="9.2" fill="#3B3536"/><circle cx="345.4" cy="1997.8" r="9.2" fill="#3B3536"/><circle cx="349.5" cy="2000.7" r="9.2" fill="#3B3536"/><circle cx="353.6" cy="2003.5" r="9.2" fill="#3B3536"/><circle cx="357.7" cy="2006.4" r="9.2" fill="#3B3536"/><circle cx="361.8" cy="2009.2" r="9.2" fill="#3B3536"/><circle cx="366.3" cy="2011.5" r="9.2" fill="#3B3536"/><circle cx="370.8" cy="2009.5" r="9.2" fill="#3B3536"/><circle cx="375.3" cy="2007.3" r="9.2" fill="#3B3536"/><circle cx="379.8" cy="2005.1" r="9.2" fill="#3B3536"/><circle cx="383.8" cy="2002.2" r="9.2" fill="#3B3536"/><circle cx="387.9" cy="1999.3" r="9.2" fill="#3B3536"/><circle cx="391.9" cy="1996.3" r="9.2" fill="#3B3536"/><circle cx="396.1" cy="1993.6" r="9.2" fill="#3B3536"/><circle cx="400.2" cy="1990.8" r="9.2" fill="#3B3536"/><circle cx="404.4" cy="1988.0" r="9.2" fill="#3B3536"/><circle cx="408.6" cy="1985.2" r="9.2" fill="#3B3536"/><circle cx="412.5" cy="1982.2" r="9.2" fill="#3B3536"/><circle cx="416.3" cy="1978.9" r="9.2" fill="#3B3536"/><circle cx="420.0" cy="1975.5" r="9.2" fill="#3B3536"/><circle cx="423.7" cy="1972.2" r="9.2" fill="#3B3536"/><circle cx="426.9" cy="1968.4" r="9.2" fill="#3B3536"/><circle cx="430.1" cy="1964.5" r="9.2" fill="#3B3536"/><circle cx="433.3" cy="1960.7" r="9.2" fill="#3B3536"/><circle cx="436.5" cy="1956.9" r="9.2" fill="#3B3536"/><circle cx="451.9" cy="1942.7" r="9.2" fill="#3B3536"/><circle cx="465.5" cy="1932.7" r="9.2" fill="#3B3536"/><circle cx="482.3" cy="1916.0" r="9.2" fill="#3B3536"/><circle cx="501.6" cy="1896.1" r="9.2" fill="#3B3536"/><circle cx="527.3" cy="1872.2" r="9.2" fill="#3B3536"/><circle cx="559.2" cy="1848.3" r="9.2" fill="#3B3536"/>
<circle cx="241.0" cy="2012.0" r="9.5" fill="#F4475A"/><circle cx="248.8" cy="1994.0" r="9.5" fill="#F4475A"/><circle cx="263.0" cy="1982.5" r="9.5" fill="#F4475A"/><circle cx="280.0" cy="1968.0" r="9.5" fill="#F4475A"/><circle cx="299.3" cy="1953.0" r="9.5" fill="#F4475A"/><circle cx="325.0" cy="1937.0" r="9.5" fill="#F4475A"/><circle cx="357.0" cy="1922.0" r="9.5" fill="#F4475A"/><circle cx="393.5" cy="1904.2" r="9.5" fill="#F4475A"/><circle cx="429.8" cy="1896.2" r="9.5" fill="#F4475A"/><circle cx="473.8" cy="1896.2" r="9.5" fill="#F4475A"/><circle cx="514.9" cy="1896.1" r="9.5" fill="#F4475A"/><circle cx="551.2" cy="1900.6" r="9.5" fill="#F4475A"/><circle cx="587.5" cy="1905.0" r="9.5" fill="#F4475A"/><circle cx="620.3" cy="1913.0" r="9.5" fill="#F4475A"/><circle cx="652.2" cy="1921.2" r="9.5" fill="#F4475A"/><circle cx="680.2" cy="1925.0" r="9.5" fill="#F4475A"/><circle cx="704.4" cy="1928.9" r="9.5" fill="#F4475A"/><circle cx="729.9" cy="1927.5" r="9.5" fill="#F4475A"/><circle cx="753.3" cy="1932.0" r="9.5" fill="#F4475A"/><circle cx="777.7" cy="1931.0" r="9.5" fill="#F4475A"/><circle cx="802.0" cy="1925.5" r="9.5" fill="#F4475A"/><circle cx="825.8" cy="1921.2" r="9.5" fill="#F4475A"/><circle cx="850.1" cy="1913.0" r="9.5" fill="#F4475A"/><circle cx="878.6" cy="1900.6" r="9.5" fill="#F4475A"/><circle cx="906.0" cy="1888.2" r="9.5" fill="#F4475A"/><circle cx="930.6" cy="1872.2" r="9.5" fill="#F4475A"/><circle cx="967.6" cy="1852.7" r="9.5" fill="#F4475A"/><circle cx="995.8" cy="1827.4" r="9.5" fill="#F4475A"/><circle cx="1040.5" cy="1803.6" r="9.5" fill="#F4475A"/><circle cx="1080.6" cy="1767.9" r="9.5" fill="#F4475A"/><circle cx="1140.1" cy="1735.2" r="9.5" fill="#F4475A"/><circle cx="1193.5" cy="1690.7" r="9.5" fill="#F4475A"/><circle cx="1274.3" cy="1650.5" r="9.5" fill="#F4475A"/>
<circle cx="238.6" cy="2010.0" r="9.5" fill="#86CB43"/><circle cx="250.0" cy="2003.0" r="9.5" fill="#86CB43"/><circle cx="264.7" cy="1995.2" r="9.5" fill="#86CB43"/><circle cx="280.0" cy="1986.0" r="9.5" fill="#86CB43"/><circle cx="297.3" cy="1974.2" r="9.5" fill="#86CB43"/><circle cx="317.0" cy="1961.0" r="9.5" fill="#86CB43"/><circle cx="341.0" cy="1949.0" r="9.5" fill="#86CB43"/><circle cx="373.5" cy="1937.2" r="9.5" fill="#86CB43"/><circle cx="406.0" cy="1933.0" r="9.5" fill="#86CB43"/><circle cx="442.0" cy="1933.5" r="9.5" fill="#86CB43"/><circle cx="477.0" cy="1937.3" r="9.5" fill="#86CB43"/><circle cx="506.9" cy="1948.4" r="9.5" fill="#86CB43"/><circle cx="531.7" cy="1959.9" r="9.5" fill="#86CB43"/><circle cx="556.5" cy="1970.5" r="9.5" fill="#86CB43"/><circle cx="575.1" cy="1981.1" r="9.5" fill="#86CB43"/><circle cx="575.0" cy="1981.0" r="9.5" fill="#86CB43"/><circle cx="581.2" cy="1986.0" r="9.5" fill="#86CB43"/><circle cx="587.5" cy="1991.0" r="9.5" fill="#86CB43"/><circle cx="593.9" cy="1995.8" r="9.5" fill="#86CB43"/><circle cx="600.3" cy="2000.6" r="9.5" fill="#86CB43"/><circle cx="607.0" cy="2004.9" r="9.5" fill="#86CB43"/><circle cx="614.2" cy="2008.3" r="9.5" fill="#86CB43"/><circle cx="621.6" cy="2011.2" r="9.5" fill="#86CB43"/><circle cx="629.6" cy="2012.3" r="9.5" fill="#86CB43"/><circle cx="637.1" cy="2011.7" r="9.5" fill="#86CB43"/><circle cx="644.0" cy="2007.6" r="9.5" fill="#86CB43"/><circle cx="662.0" cy="1988.0" r="9.5" fill="#86CB43"/><circle cx="674.7" cy="1976.0" r="9.5" fill="#86CB43"/><circle cx="687.5" cy="1967.2" r="9.5" fill="#86CB43"/><circle cx="704.0" cy="1953.1" r="9.5" fill="#86CB43"/><circle cx="722.0" cy="1932.7" r="9.5" fill="#86CB43"/><circle cx="749.1" cy="1904.4" r="9.5" fill="#86CB43"/>
<circle cx="238.6" cy="2012.0" r="9.5" fill="#00ADEE"/><circle cx="244.9" cy="2016.9" r="9.5" fill="#00ADEE"/><circle cx="251.8" cy="2017.2" r="9.5" fill="#00ADEE"/><circle cx="259.2" cy="2014.0" r="9.5" fill="#00ADEE"/><circle cx="266.5" cy="2010.7" r="9.5" fill="#00ADEE"/><circle cx="273.8" cy="2007.5" r="9.5" fill="#00ADEE"/><circle cx="281.1" cy="2004.3" r="9.5" fill="#00ADEE"/><circle cx="288.5" cy="2001.1" r="9.5" fill="#00ADEE"/><circle cx="295.8" cy="1997.9" r="9.5" fill="#00ADEE"/><circle cx="303.1" cy="1994.6" r="9.5" fill="#00ADEE"/><circle cx="310.4" cy="1991.4" r="9.5" fill="#00ADEE"/><circle cx="317.7" cy="1988.2" r="9.5" fill="#00ADEE"/><circle cx="336.7" cy="1982.3" r="9.5" fill="#00ADEE"/><circle cx="357.2" cy="1976.7" r="9.5" fill="#00ADEE"/><circle cx="377.7" cy="1969.6" r="9.5" fill="#00ADEE"/><circle cx="406.0" cy="1965.3" r="9.5" fill="#00ADEE"/><circle cx="431.6" cy="1959.7" r="9.5" fill="#00ADEE"/><circle cx="458.5" cy="1961.8" r="9.5" fill="#00ADEE"/><circle cx="486.6" cy="1961.6" r="9.5" fill="#00ADEE"/><circle cx="510.5" cy="1965.2" r="9.5" fill="#00ADEE"/><circle cx="534.4" cy="1974.0" r="9.5" fill="#00ADEE"/><circle cx="554.7" cy="1982.0" r="9.5" fill="#00ADEE"/><circle cx="560.0" cy="1980.0" r="9.5" fill="#00ADEE"/><circle cx="568.3" cy="1983.4" r="9.5" fill="#00ADEE"/><circle cx="576.6" cy="1987.0" r="9.5" fill="#00ADEE"/><circle cx="584.5" cy="1991.2" r="9.5" fill="#00ADEE"/><circle cx="592.5" cy="1995.3" r="9.5" fill="#00ADEE"/><circle cx="601.3" cy="1997.1" r="9.5" fill="#00ADEE"/><circle cx="610.2" cy="1998.8" r="9.5" fill="#00ADEE"/><circle cx="619.1" cy="2000.1" r="9.5" fill="#00ADEE"/><circle cx="628.0" cy="2001.3" r="9.5" fill="#00ADEE"/><circle cx="637.0" cy="2001.6" r="9.5" fill="#00ADEE"/><circle cx="646.0" cy="2001.6" r="9.5" fill="#00ADEE"/><circle cx="654.7" cy="1999.8" r="9.5" fill="#00ADEE"/><circle cx="663.2" cy="1996.9" r="9.5" fill="#00ADEE"/><circle cx="671.4" cy="1993.4" r="9.5" fill="#00ADEE"/><circle cx="679.1" cy="1988.7" r="9.5" fill="#00ADEE"/><circle cx="686.8" cy="1984.1" r="9.5" fill="#00ADEE"/><circle cx="694.6" cy="1979.5" r="9.5" fill="#00ADEE"/><circle cx="702.4" cy="1975.0" r="9.5" fill="#00ADEE"/><circle cx="710.4" cy="1971.0" r="9.5" fill="#00ADEE"/><circle cx="729.6" cy="1953.1" r="9.5" fill="#00ADEE"/><circle cx="749.1" cy="1936.3" r="9.5" fill="#00ADEE"/><circle cx="769.3" cy="1916.1" r="9.5" fill="#00ADEE"/><circle cx="801.1" cy="1892.7" r="9.5" fill="#00ADEE"/>
<circle cx="240.0" cy="2018.0" r="9.5" fill="#FFC000"/><circle cx="256.7" cy="2004.2" r="9.5" fill="#FFC000"/><circle cx="280.5" cy="1985.0" r="9.5" fill="#FFC000"/><circle cx="312.8" cy="1952.8" r="9.5" fill="#FFC000"/><circle cx="353.3" cy="1908.5" r="9.5" fill="#FFC000"/><circle cx="405.4" cy="1856.4" r="9.5" fill="#FFC000"/><circle cx="470.8" cy="1787.8" r="9.5" fill="#FFC000"/><circle cx="554.6" cy="1701.5" r="9.5" fill="#FFC000"/><circle cx="659.0" cy="1605.8" r="9.5" fill="#FFC000"/><circle cx="789.5" cy="1493.0" r="9.5" fill="#FFC000"/><circle cx="951.2" cy="1359.3" r="9.5" fill="#FFC000"/><circle cx="1144.5" cy="1210.5" r="9.5" fill="#FFC000"/>
<circle cx="301.3" cy="1178.4" r="9.4" fill="#3B3536"/>
<text transform="translate(316,1189.4) scale(1,1.04)" class="tl2">GCE</text>
<circle cx="301.3" cy="1234.7" r="9.4" fill="#F4475A"/>
<text transform="translate(316,1246.3) scale(1,1.04)" class="tl2">GCE-tPANI</text>
<circle cx="301.3" cy="1291.0" r="9.4" fill="#86CB43"/>
<text transform="translate(316,1303.2) scale(1,1.04)" class="tl2">GCE-tPANI-Au@Pt</text>
<circle cx="301.3" cy="1347.3" r="9.4" fill="#00ADEE"/>
<text transform="translate(316,1360.1) scale(1,1.04)" class="tl2">GCE-tPANI-MWCNT</text>
<circle cx="301.3" cy="1403.6" r="9.4" fill="#FFC000"/>
<text transform="translate(316,1417.0) scale(1,1.04)" class="tl2">GCE-tPANI-Au@Pt-MWCNT</text>
<path d="M805,1489.6 H1222" stroke="#EDEDED" stroke-width="2"/>
<g fill="none" stroke="#333333" stroke-width="2.7"><path d="M810.7,1602 H852 M911,1602 H954"/><rect x="852" y="1588.3" width="59" height="28.7"/><path d="M954,1555 V1653.7 H996.5 M1056,1653.7 H1096 M1136,1653.7 H1178 V1555 H1073.6 M1054.5,1555 H954"/><path d="M1054.5,1534 V1574 M1073.6,1534 V1574"/><path d="M1178,1599.5 H1220.5"/><rect x="996.5" y="1639" width="59.5" height="27.4"/></g>
<text x="1094" y="1666" class="ser" style="font-size:40px">W</text>
<text x="1045.5" y="1514" class="cb">C<tspan class="sub" dy="5" dx="1">dl</tspan></text>
<text x="866.5" y="1575.8" class="cb">R<tspan class="sub" dy="6.5" dx="0.5">S</tspan></text>
<text x="1010" y="1626.8" class="cb">R<tspan class="sub" dy="4.5" dx="0.5">ct</tspan></text>
<text x="1098.5" y="1626.8" class="cb">Z<tspan class="sub" dy="4" dx="0.5">W</tspan></text>
</svg></body></html>
